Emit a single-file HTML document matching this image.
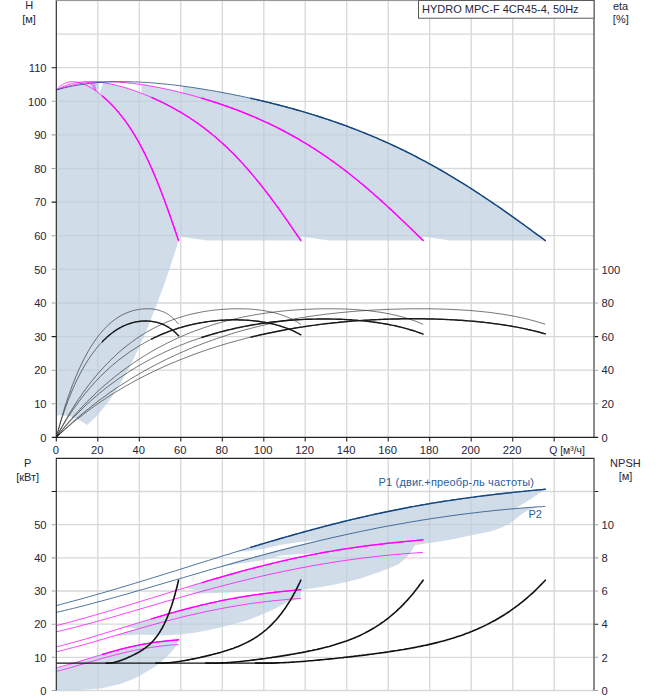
<!DOCTYPE html>
<html lang="ru"><head><meta charset="utf-8"><title>HYDRO MPC-F 4CR45-4, 50Hz</title>
<style>html,body{margin:0;padding:0;background:#fff}svg{display:block}</style></head>
<body>
<svg width="658" height="700" viewBox="0 0 658 700">
<rect width="658" height="700" fill="#fff"/>
<path d="M97.8 0.5V437.4M97.8 458.4V690.5M139.3 0.5V437.4M139.3 458.4V690.5M180.8 0.5V437.4M180.8 458.4V690.5M222.3 0.5V437.4M222.3 458.4V690.5M263.8 0.5V437.4M263.8 458.4V690.5M305.2 0.5V437.4M305.2 458.4V690.5M346.7 0.5V437.4M346.7 458.4V690.5M388.2 0.5V437.4M388.2 458.4V690.5M429.7 0.5V437.4M429.7 458.4V690.5M471.2 0.5V437.4M471.2 458.4V690.5M512.7 0.5V437.4M512.7 458.4V690.5M554.2 0.5V437.4M554.2 458.4V690.5M56.3 403.8H594.0M56.3 370.2H594.0M56.3 336.6H594.0M56.3 303.0H594.0M56.3 269.3H594.0M56.3 235.7H594.0M56.3 202.1H594.0M56.3 168.5H594.0M56.3 134.9H594.0M56.3 101.3H594.0M56.3 67.7H594.0M56.3 34.1H594.0M56.3 0.5H594.0M56.3 690.5H594.0M56.3 657.3H594.0M56.3 624.2H594.0M56.3 591.0H594.0M56.3 557.9H594.0M56.3 524.7H594.0M56.3 491.5H594.0" stroke="#d6d9d9" stroke-width="1.3" fill="none"/>
<path d="M56.3 90.0 L58.4 87.8 L60.4 86.0 L62.5 84.5 L64.6 83.4 L66.7 82.6 L68.7 82.0 L70.8 81.7 L72.9 81.7 L74.9 81.8 L77.0 82.1 L79.1 82.6 L81.2 83.2 L83.2 84.0 L85.3 84.8 L87.4 85.9 L89.5 87.0 L91.5 88.2 L93.6 89.5 L95.7 90.9 L97.7 92.4 L99.8 94.0 L101.9 95.7 L104.0 97.5 L106.0 99.3 L108.1 101.2 L110.2 103.2 L112.2 105.4 L114.3 107.6 L116.4 109.9 L118.5 112.3 L120.5 114.8 L122.6 117.4 L124.7 120.1 L126.7 123.0 L128.8 126.0 L130.9 129.1 L133.0 132.4 L135.0 135.7 L137.1 139.3 L139.2 143.0 L141.3 146.8 L143.3 150.8 L145.4 154.9 L147.5 159.2 L149.5 163.7 L151.6 168.3 L153.7 173.1 L155.8 178.0 L157.8 183.1 L159.9 188.3 L162.0 193.7 L164.0 199.2 L166.1 204.8 L168.2 210.6 L170.3 216.4 L172.3 222.4 L174.4 228.4 L176.5 234.5 L178.6 240.6 L178.6 240.6 L176.2 248.3 L173.9 255.6 L171.5 262.8 L169.2 269.9 L166.8 276.8 L164.5 283.5 L162.1 290.1 L159.7 296.6 L157.4 302.9 L155.0 309.1 L152.7 315.1 L150.3 321.0 L148.0 326.8 L145.6 332.4 L143.3 337.8 L140.9 343.1 L138.6 348.3 L136.2 353.3 L133.9 358.2 L131.5 362.9 L129.2 367.5 L126.8 371.9 L124.5 376.2 L122.1 380.4 L119.8 384.4 L117.4 388.2 L115.1 391.9 L112.7 395.5 L110.4 398.9 L108.0 402.2 L105.7 405.3 L103.3 408.3 L101.0 411.1 L98.6 413.8 L96.3 416.4 L93.9 418.8 L91.6 421.0 L89.2 423.1 L86.9 425.1 L86.9 425.1 L84.1 423.1 L81.3 421.3 L78.6 419.7 L75.8 418.5 L73.0 417.4 L70.2 416.6 L67.4 416.0 L64.6 415.5 L61.9 415.2 L59.1 415.2 L56.3 415.7ZM56.3 90.0 L57.8 89.6 L59.2 89.2 L60.7 88.8 L62.2 88.4 L63.6 88.0 L65.1 87.7 L66.6 87.3 L68.0 87.0 L69.5 86.7 L71.0 86.4 L72.4 86.1 L73.9 85.8 L75.4 85.5 L76.8 85.3 L78.3 85.0 L79.8 84.8 L81.2 84.5 L82.7 84.3 L84.2 84.1 L85.6 83.9 L87.1 83.7 L88.6 83.5 L90.0 83.3 L91.5 83.2 L93.0 83.0 L94.4 82.9 L95.9 82.8 L97.4 82.6 L98.8 82.5 L98.8 93.3 L97.4 92.2 L95.9 91.1 L94.4 90.1 L93.0 89.1 L91.5 88.2 L90.0 87.3 L88.6 86.5 L87.1 85.7 L85.6 85.0 L84.2 84.3 L82.7 83.7 L81.2 83.2 L79.8 82.7 L78.3 82.4 L76.8 82.0 L75.4 81.8 L73.9 81.7 L72.4 81.7 L71.0 81.7 L69.5 81.9 L68.0 82.2 L66.6 82.6 L65.1 83.2 L63.6 83.9 L62.2 84.8 L60.7 85.8 L59.2 87.0 L57.8 88.4 L56.3 90.0ZM103.5 82.8 L106.0 83.2 L108.5 83.6 L111.0 84.1 L113.5 84.7 L116.0 85.2 L118.5 85.9 L121.0 86.5 L123.5 87.2 L126.0 88.0 L128.5 88.7 L131.0 89.6 L133.5 90.4 L136.0 91.3 L138.5 92.2 L141.0 93.1 L143.5 94.1 L146.0 95.1 L148.5 96.1 L150.9 97.2 L153.4 98.3 L155.9 99.4 L158.4 100.5 L160.9 101.7 L163.4 102.9 L165.9 104.2 L168.4 105.5 L170.9 106.8 L173.4 108.2 L175.9 109.5 L178.4 111.0 L180.9 112.4 L183.4 113.9 L185.9 115.5 L188.4 117.1 L190.9 118.7 L193.4 120.4 L195.9 122.1 L198.4 123.8 L200.9 125.7 L203.4 127.5 L205.9 129.4 L208.4 131.4 L210.9 133.4 L213.4 135.4 L215.9 137.5 L218.4 139.7 L220.9 141.9 L223.4 144.2 L225.9 146.5 L228.4 148.9 L230.9 151.3 L233.4 153.8 L235.9 156.3 L238.4 159.0 L240.9 161.6 L243.4 164.3 L245.9 167.1 L248.4 170.0 L250.8 172.8 L253.3 175.8 L255.8 178.8 L258.3 181.9 L260.8 185.0 L263.3 188.1 L265.8 191.3 L268.3 194.6 L270.8 197.9 L273.3 201.3 L275.8 204.7 L278.3 208.1 L280.8 211.6 L283.3 215.1 L285.8 218.7 L288.3 222.3 L290.8 225.9 L293.3 229.5 L295.8 233.2 L298.3 236.9 L300.8 240.6 L300.8 240.4 L207.4 240.4 L178.9 236.6 L178.6 240.6 L177.2 236.6 L175.9 232.6 L174.5 228.7 L173.2 224.8 L171.8 220.9 L170.5 217.1 L169.1 213.3 L167.8 209.5 L166.5 205.8 L165.1 202.1 L163.8 198.5 L162.4 194.9 L161.1 191.4 L159.7 187.9 L158.4 184.5 L157.0 181.2 L155.7 177.9 L154.4 174.7 L153.0 171.5 L151.7 168.4 L150.3 165.4 L149.0 162.5 L147.6 159.6 L146.3 156.8 L144.9 154.0 L143.6 151.3 L142.3 148.7 L140.9 146.2 L139.6 143.7 L138.2 141.2 L136.9 138.9 L135.5 136.6 L134.2 134.3 L132.8 132.2 L131.5 130.0 L130.2 128.0 L128.8 126.0 L127.5 124.0 L126.1 122.1 L124.8 120.3 L123.4 118.5 L122.1 116.7 L120.7 115.0 L119.4 113.4 L118.1 111.8 L116.7 110.2 L115.4 108.7 L114.0 107.2 L112.7 105.8 L111.3 104.4 L110.0 103.1 L108.7 101.8 L107.3 100.5 L106.0 99.2 L104.6 98.0 L103.3 96.9 L101.9 95.7 L100.6 94.6 L99.2 93.6ZM141.4 84.6 L144.9 85.1 L148.5 85.7 L152.1 86.3 L155.6 87.0 L159.2 87.6 L162.7 88.4 L166.3 89.1 L169.9 89.9 L173.4 90.7 L177.0 91.6 L180.6 92.4 L184.1 93.3 L187.7 94.3 L191.3 95.2 L194.8 96.2 L198.4 97.2 L202.0 98.3 L205.5 99.3 L209.1 100.4 L212.7 101.5 L216.2 102.7 L219.8 103.9 L223.4 105.1 L226.9 106.3 L230.5 107.6 L234.1 108.9 L237.6 110.3 L241.2 111.6 L244.8 113.1 L248.3 114.5 L251.9 116.0 L255.5 117.5 L259.0 119.1 L262.6 120.7 L266.2 122.3 L269.7 124.0 L273.3 125.7 L276.9 127.5 L280.4 129.3 L284.0 131.1 L287.6 133.0 L291.1 135.0 L294.7 137.0 L298.2 139.0 L301.8 141.1 L305.4 143.2 L308.9 145.4 L312.5 147.7 L316.1 149.9 L319.6 152.3 L323.2 154.7 L326.8 157.1 L330.3 159.6 L333.9 162.2 L337.5 164.8 L341.0 167.4 L344.6 170.1 L348.2 172.9 L351.7 175.7 L355.3 178.5 L358.9 181.4 L362.4 184.4 L366.0 187.4 L369.6 190.5 L373.1 193.5 L376.7 196.7 L380.3 199.9 L383.8 203.1 L387.4 206.3 L391.0 209.6 L394.5 213.0 L398.1 216.3 L401.7 219.7 L405.2 223.2 L408.8 226.6 L412.4 230.1 L415.9 233.6 L419.5 237.1 L423.1 240.6 L423.1 240.4 L329.0 240.4 L301.1 236.6 L300.8 240.6 L298.1 236.6 L295.4 232.6 L292.7 228.6 L290.0 224.7 L287.3 220.8 L284.6 216.9 L281.9 213.1 L279.2 209.3 L276.5 205.6 L273.8 201.9 L271.1 198.3 L268.4 194.7 L265.7 191.1 L263.0 187.7 L260.3 184.2 L257.6 180.9 L254.9 177.6 L252.2 174.4 L249.5 171.2 L246.8 168.1 L244.0 165.1 L241.3 162.1 L238.6 159.2 L235.9 156.4 L233.2 153.7 L230.5 151.0 L227.8 148.4 L225.1 145.8 L222.4 143.3 L219.7 140.9 L217.0 138.5 L214.3 136.2 L211.6 134.0 L208.9 131.8 L206.2 129.7 L203.5 127.6 L200.8 125.6 L198.1 123.6 L195.4 121.7 L192.7 119.9 L190.0 118.1 L187.3 116.4 L184.6 114.7 L181.9 113.0 L179.2 111.4 L176.5 109.9 L173.8 108.4 L171.1 106.9 L168.4 105.5 L165.7 104.1 L163.0 102.7 L160.3 101.4 L157.6 100.1 L154.9 98.9 L152.2 97.7 L149.5 96.5 L146.8 95.4 L144.1 94.3 L141.4 93.3ZM182.8 86.2 L187.4 86.8 L192.0 87.4 L196.6 88.1 L201.2 88.8 L205.8 89.6 L210.4 90.4 L215.0 91.2 L219.5 92.0 L224.1 92.8 L228.7 93.7 L233.3 94.6 L237.9 95.6 L242.5 96.5 L247.1 97.5 L251.7 98.5 L256.3 99.5 L260.8 100.6 L265.4 101.7 L270.0 102.8 L274.6 104.0 L279.2 105.1 L283.8 106.3 L288.4 107.6 L293.0 108.8 L297.5 110.1 L302.1 111.4 L306.7 112.8 L311.3 114.2 L315.9 115.6 L320.5 117.1 L325.1 118.6 L329.7 120.1 L334.3 121.7 L338.8 123.3 L343.4 124.9 L348.0 126.6 L352.6 128.3 L357.2 130.1 L361.8 131.9 L366.4 133.7 L371.0 135.6 L375.5 137.6 L380.1 139.5 L384.7 141.6 L389.3 143.6 L393.9 145.8 L398.5 147.9 L403.1 150.1 L407.7 152.4 L412.2 154.7 L416.8 157.1 L421.4 159.5 L426.0 161.9 L430.6 164.4 L435.2 167.0 L439.8 169.6 L444.4 172.2 L449.0 174.9 L453.5 177.7 L458.1 180.5 L462.7 183.3 L467.3 186.2 L471.9 189.1 L476.5 192.1 L481.1 195.1 L485.7 198.1 L490.2 201.2 L494.8 204.3 L499.4 207.5 L504.0 210.7 L508.6 213.9 L513.2 217.2 L517.8 220.5 L522.4 223.8 L526.9 227.1 L531.5 230.4 L536.1 233.8 L540.7 237.2 L545.3 240.6 L545.3 240.4 L450.0 240.4 L423.4 236.6 L423.1 240.6 L419.0 236.6 L414.9 232.6 L410.8 228.6 L406.8 224.6 L402.7 220.7 L398.6 216.8 L394.6 213.0 L390.5 209.2 L386.4 205.4 L382.3 201.7 L378.3 198.1 L374.2 194.5 L370.1 190.9 L366.1 187.4 L362.0 184.0 L357.9 180.7 L353.8 177.4 L349.8 174.1 L345.7 171.0 L341.6 167.9 L337.6 164.8 L333.5 161.9 L329.4 159.0 L325.3 156.1 L321.3 153.4 L317.2 150.7 L313.1 148.0 L309.1 145.5 L305.0 143.0 L300.9 140.6 L296.8 138.2 L292.8 135.9 L288.7 133.6 L284.6 131.5 L280.6 129.3 L276.5 127.3 L272.4 125.3 L268.3 123.3 L264.3 121.4 L260.2 119.6 L256.1 117.8 L252.1 116.0 L248.0 114.4 L243.9 112.7 L239.8 111.1 L235.8 109.6 L231.7 108.1 L227.6 106.6 L223.6 105.2 L219.5 103.8 L215.4 102.4 L211.3 101.1 L207.3 99.8 L203.2 98.6 L199.1 97.4 L195.1 96.3 L191.0 95.1 L186.9 94.1 L182.8 93.0Z" fill="#bccdde" fill-opacity="0.7"/>
<path d="M56.3 667.8 L59.4 667.0 L62.6 666.2 L65.7 665.3 L68.8 664.4 L72.0 663.5 L75.1 662.6 L78.2 661.7 L81.4 660.8 L84.5 659.8 L87.6 658.9 L90.8 657.9 L93.9 657.0 L97.1 656.0 L100.2 655.1 L103.3 654.1 L106.5 653.2 L109.6 652.3 L112.7 651.4 L115.9 650.6 L119.0 649.7 L122.1 648.9 L125.3 648.1 L128.4 647.4 L131.5 646.6 L134.7 645.9 L137.8 645.3 L140.9 644.7 L144.1 644.1 L147.2 643.5 L150.3 643.0 L153.5 642.5 L156.6 642.1 L159.7 641.7 L162.9 641.3 L166.0 641.0 L169.1 640.6 L172.3 640.3 L175.4 640.1 L178.6 639.8 L178.6 639.5 L178.0 641.3 L176.2 646.1 L172.6 650.6 L166.5 657.1 L160.4 662.6 L154.3 667.2 L147.0 671.6 L139.0 676.2 L130.0 680.3 L120.0 684.0 L102.0 688.2 L80.0 689.9 L56.3 690.5ZM124.3 627.2 L127.9 626.1 L131.5 624.9 L135.1 623.8 L138.7 622.7 L142.3 621.6 L145.9 620.5 L149.5 619.4 L153.1 618.3 L156.7 617.3 L160.3 616.2 L163.9 615.2 L167.5 614.1 L171.1 613.1 L174.7 612.1 L178.3 611.1 L181.9 610.1 L185.5 609.2 L189.1 608.2 L192.7 607.3 L196.3 606.4 L199.9 605.5 L203.5 604.6 L207.1 603.8 L210.7 603.0 L214.4 602.2 L218.0 601.4 L221.6 600.7 L225.2 599.9 L228.8 599.2 L232.4 598.6 L236.0 597.9 L239.6 597.3 L243.2 596.7 L246.8 596.1 L250.4 595.5 L254.0 595.0 L257.6 594.5 L261.2 594.0 L264.8 593.5 L268.4 593.1 L272.0 592.6 L275.6 592.2 L279.2 591.8 L282.8 591.4 L286.4 591.1 L290.0 590.7 L293.6 590.4 L297.2 590.0 L300.8 589.7 L301.1 589.2 L300.5 598.6 L296.2 599.4 L286.5 602.4 L274.3 608.9 L262.2 614.4 L250.0 619.2 L241.6 621.9 L226.0 626.0 L211.2 629.5 L196.0 632.4 L180.8 634.6 L167.0 635.2 L155.0 635.2 L145.0 634.8 L139.2 634.4 L132.0 634.9 L124.0 635.4 L116.0 635.4 L116.0 634.9 L118.3 634.2 L120.7 633.5 L123.0 632.8 L125.3 632.1 L127.7 631.5 L130.0 630.8 L132.3 630.1 L134.7 629.4 L137.0 628.8 L133.0 627.9 L129.0 627.4ZM185.0 587.7 L189.9 586.3 L194.7 584.8 L199.6 583.3 L204.4 581.9 L209.3 580.4 L214.1 579.0 L219.0 577.6 L223.9 576.2 L228.7 574.8 L233.6 573.5 L238.4 572.1 L243.3 570.8 L248.2 569.5 L253.0 568.2 L257.9 567.0 L262.7 565.7 L267.6 564.5 L272.4 563.3 L277.3 562.2 L282.2 561.0 L287.0 559.9 L291.9 558.9 L296.7 557.8 L301.6 556.8 L306.5 555.8 L311.3 554.8 L316.2 553.9 L321.0 553.0 L325.9 552.1 L330.7 551.3 L335.6 550.4 L340.5 549.7 L345.3 548.9 L350.2 548.2 L355.0 547.4 L359.9 546.8 L364.8 546.1 L369.6 545.5 L374.5 544.9 L379.3 544.3 L384.2 543.7 L389.0 543.2 L393.9 542.7 L398.8 542.2 L403.6 541.7 L408.5 541.2 L413.3 540.8 L418.2 540.3 L423.1 539.9 L423.0 543.9 L416.6 544.5 L414.3 546.2 L410.5 552.8 L406.0 558.1 L398.4 564.2 L388.0 568.8 L375.6 573.3 L360.4 578.6 L345.2 582.3 L330.0 585.6 L316.0 587.8 L304.7 589.3 L291.6 590.0 L263.4 591.0 L230.8 592.4 L206.5 593.2 L190.0 593.6 L176.0 598.6 L176.0 598.0 L179.2 597.1 L182.4 596.2 L185.5 595.3 L188.7 594.4 L191.9 593.5 L195.1 592.6 L198.3 591.7 L201.5 590.9 L204.6 590.0 L207.8 589.1 L211.0 588.3 L203.0 590.4 L195.6 590.1ZM237.3 551.5 L241.2 550.3 L245.1 549.1 L249.0 547.9 L252.9 546.7 L256.8 545.5 L260.7 544.4 L264.6 543.2 L268.5 542.1 L272.4 540.9 L276.3 539.8 L280.2 538.6 L284.1 537.5 L288.0 536.4 L291.9 535.3 L295.8 534.2 L299.7 533.1 L303.6 532.0 L307.5 530.9 L311.4 529.9 L315.3 528.8 L319.2 527.8 L323.1 526.8 L327.0 525.8 L330.9 524.8 L334.8 523.8 L338.7 522.8 L342.6 521.8 L346.5 520.9 L350.4 519.9 L354.3 519.0 L358.2 518.1 L362.1 517.2 L366.0 516.3 L369.9 515.4 L373.8 514.5 L377.7 513.7 L381.6 512.8 L385.5 512.0 L389.4 511.2 L393.2 510.4 L397.1 509.6 L401.0 508.9 L404.9 508.1 L408.8 507.4 L412.7 506.6 L416.6 505.9 L420.5 505.2 L424.4 504.5 L428.3 503.9 L432.2 503.2 L436.1 502.6 L440.0 501.9 L443.9 501.3 L447.8 500.7 L451.7 500.1 L455.6 499.6 L459.5 499.0 L463.4 498.4 L467.3 497.9 L471.2 497.4 L475.1 496.9 L479.0 496.4 L482.9 495.9 L486.8 495.4 L490.7 494.9 L494.6 494.5 L498.5 494.0 L502.4 493.6 L506.3 493.1 L510.2 492.7 L514.1 492.3 L518.0 491.9 L521.9 491.5 L525.8 491.1 L529.7 490.7 L533.6 490.3 L537.5 490.0 L541.4 489.6 L545.3 489.2 L541.1 491.7 L532.6 498.1 L521.9 504.5 L517.1 507.2 L517.1 508.5 L520.1 508.2 L523.1 508.0 L526.1 507.7 L529.0 507.5 L532.0 507.3 L535.0 507.1 L538.0 506.9 L535.0 507.9 L527.2 510.5 L521.9 514.0 L511.3 522.6 L500.6 527.9 L490.0 531.5 L473.0 534.9 L460.8 537.6 L448.6 540.1 L436.5 542.0 L424.3 543.7 L414.6 545.2 L414.6 541.1 L409.5 541.6 L404.4 542.1 L399.3 542.6 L394.3 543.1 L389.2 543.7 L384.1 544.2 L379.0 544.8 L373.9 545.4 L368.8 546.1 L363.8 546.7 L358.7 547.4 L353.6 548.2 L348.5 548.9 L343.4 549.7 L338.3 550.5 L333.3 551.3 L328.2 552.2 L323.1 553.1 L318.0 554.1 L310.4 553.4 L304.3 553.8 L292.2 554.6 L280.0 555.8 L263.3 560.2 L245.0 562.7 L222.5 566.2 L222.5 565.4 L226.0 564.4 L229.4 563.5 L232.9 562.5 L236.4 561.5 L239.8 560.5 L243.3 559.6 L246.8 558.6 L250.2 557.7 L253.7 556.7 L257.2 555.8 L260.6 554.8 L264.1 553.9 L267.6 553.0 L271.0 552.0 L274.5 551.1 L277.9 550.2 L281.4 549.3 L284.9 548.4 L288.3 547.5 L291.8 546.6 L295.3 545.8 L298.7 544.9 L302.2 544.0 L305.7 543.2 L309.1 542.3 L312.6 541.5 L316.1 540.7 L319.5 539.8 L323.0 539.0 L318.5 539.9 L304.3 541.5 L292.2 542.9 L280.0 545.1 L262.8 549.0 L248.0 551.3Z" fill="#bccdde" fill-opacity="0.7"/>
<path d="M56.3 90.0 L57.3 88.9 L58.4 87.8 L59.4 86.9 L60.4 86.0 L61.4 85.3 L62.5 84.6 L63.5 84.0 L64.5 83.4 L65.5 83.0 L66.6 82.6 L67.6 82.3 L68.6 82.1 L69.7 81.9 L70.7 81.7 L71.7 81.7 L72.7 81.7 L73.8 81.7 L74.8 81.8 L75.8 81.9 L76.8 82.0 L77.9 82.3 L78.9 82.5 L79.9 82.8 L81.0 83.1 L82.0 83.5 L83.0 83.9 L84.0 84.3 L85.1 84.7 L86.1 85.2 L87.1 85.7 L88.1 86.3 L89.2 86.8 L90.2 87.4 L91.2 88.0 L92.3 88.7 L93.3 89.3 L94.3 90.0 L95.3 90.7 L96.4 91.4 L97.4 92.2 L98.4 93.0 L99.4 93.7 L100.5 94.6 L101.5 95.4 L102.5 96.2 L103.6 97.1 L104.6 98.0 L105.6 98.9 L106.6 99.9 L107.7 100.8 L108.7 101.8 L109.7 102.8 L110.7 103.8 L111.8 104.9 L112.8 105.9 L113.8 107.0 L114.9 108.1 L115.9 109.3 L116.9 110.5 L117.9 111.6 L119.0 112.9 L120.0 114.1 L121.0 115.4 L122.0 116.7 L123.1 118.0 L124.1 119.4 L125.1 120.7 L126.2 122.2 L127.2 123.6 L128.2 125.1 L129.2 126.6 L130.3 128.1 L131.3 129.7 L132.3 131.3 L133.3 133.0 L134.4 134.6 L135.4 136.4 L136.4 138.1 L137.5 139.9 L138.5 141.7 L139.5 143.6 L140.5 145.5 L141.6 147.4 L142.6 149.4 L143.6 151.4 L144.6 153.4 L145.7 155.5 L146.7 157.6 L147.7 159.8 L148.8 162.0 L149.8 164.2 L150.8 166.5 L151.8 168.8 L152.9 171.2 L153.9 173.6 L154.9 176.0 L155.9 178.5 L157.0 181.0 L158.0 183.6 L159.0 186.1 L160.1 188.7 L161.1 191.4 L162.1 194.1 L163.1 196.8 L164.2 199.5 L165.2 202.3 L166.2 205.1 L167.2 208.0 L168.3 210.8 L169.3 213.7 L170.3 216.6 L171.4 219.6 L172.4 222.5 L173.4 225.5 L174.4 228.5 L175.5 231.5 L176.5 234.5 L177.5 237.5 L178.6 240.6" stroke="#ff00ff" stroke-width="0.75" fill="none"/>
<path d="M102.4 96.1 L103.0 96.6 L103.6 97.2 L104.3 97.7 L104.9 98.3 L105.6 98.9 L106.2 99.5 L106.8 100.0 L107.5 100.6 L108.1 101.2 L108.8 101.9 L109.4 102.5 L110.0 103.1 L110.7 103.8 L111.3 104.4 L112.0 105.1 L112.6 105.7 L113.2 106.4 L113.9 107.1 L114.5 107.8 L115.2 108.5 L115.8 109.2 L116.4 109.9 L117.1 110.7 L117.7 111.4 L118.4 112.1 L119.0 112.9 L119.6 113.7 L120.3 114.5 L120.9 115.3 L121.6 116.1 L122.2 116.9 L122.8 117.7 L123.5 118.5 L124.1 119.4 L124.8 120.3 L125.4 121.1 L126.0 122.0 L126.7 122.9 L127.3 123.8 L128.0 124.7 L128.6 125.7 L129.2 126.6 L129.9 127.6 L130.5 128.5 L131.2 129.5 L131.8 130.5 L132.4 131.5 L133.1 132.5 L133.7 133.6 L134.4 134.6 L135.0 135.7 L135.6 136.8 L136.3 137.9 L136.9 139.0 L137.6 140.1 L138.2 141.2 L138.9 142.4 L139.5 143.5 L140.1 144.7 L140.8 145.9 L141.4 147.1 L142.1 148.3 L142.7 149.6 L143.3 150.8 L144.0 152.1 L144.6 153.4 L145.3 154.6 L145.9 156.0 L146.5 157.3 L147.2 158.6 L147.8 160.0 L148.5 161.3 L149.1 162.7 L149.7 164.1 L150.4 165.5 L151.0 167.0 L151.7 168.4 L152.3 169.9 L152.9 171.4 L153.6 172.9 L154.2 174.4 L154.9 175.9 L155.5 177.4 L156.1 179.0 L156.8 180.5 L157.4 182.1 L158.1 183.7 L158.7 185.3 L159.3 186.9 L160.0 188.5 L160.6 190.2 L161.3 191.9 L161.9 193.5 L162.5 195.2 L163.2 196.9 L163.8 198.6 L164.5 200.3 L165.1 202.1 L165.7 203.8 L166.4 205.6 L167.0 207.3 L167.7 209.1 L168.3 210.9 L168.9 212.7 L169.6 214.5 L170.2 216.3 L170.9 218.2 L171.5 220.0 L172.1 221.8 L172.8 223.7 L173.4 225.5 L174.1 227.4 L174.7 229.3 L175.3 231.1 L176.0 233.0 L176.6 234.9 L177.3 236.8 L177.9 238.7 L178.6 240.6" stroke="#ff00ff" stroke-width="1.45" fill="none" stroke-linecap="round"/>
<path d="M56.3 90.0 L58.4 88.9 L60.4 87.8 L62.5 86.9 L64.5 86.0 L66.6 85.3 L68.6 84.6 L70.7 84.0 L72.7 83.4 L74.8 83.0 L76.8 82.6 L78.9 82.3 L81.0 82.1 L83.0 81.9 L85.1 81.7 L87.1 81.7 L89.2 81.7 L91.2 81.7 L93.3 81.8 L95.3 81.9 L97.4 82.0 L99.4 82.3 L101.5 82.5 L103.6 82.8 L105.6 83.1 L107.7 83.5 L109.7 83.9 L111.8 84.3 L113.8 84.7 L115.9 85.2 L117.9 85.7 L120.0 86.3 L122.0 86.8 L124.1 87.4 L126.2 88.0 L128.2 88.7 L130.3 89.3 L132.3 90.0 L134.4 90.7 L136.4 91.4 L138.5 92.2 L140.5 93.0 L142.6 93.7 L144.6 94.6 L146.7 95.4 L148.8 96.2 L150.8 97.1 L152.9 98.0 L154.9 98.9 L157.0 99.9 L159.0 100.8 L161.1 101.8 L163.1 102.8 L165.2 103.8 L167.2 104.9 L169.3 105.9 L171.4 107.0 L173.4 108.1 L175.5 109.3 L177.5 110.5 L179.6 111.6 L181.6 112.9 L183.7 114.1 L185.7 115.4 L187.8 116.7 L189.9 118.0 L191.9 119.4 L194.0 120.7 L196.0 122.2 L198.1 123.6 L200.1 125.1 L202.2 126.6 L204.2 128.1 L206.3 129.7 L208.3 131.3 L210.4 133.0 L212.5 134.6 L214.5 136.4 L216.6 138.1 L218.6 139.9 L220.7 141.7 L222.7 143.6 L224.8 145.5 L226.8 147.4 L228.9 149.4 L230.9 151.4 L233.0 153.4 L235.1 155.5 L237.1 157.6 L239.2 159.8 L241.2 162.0 L243.3 164.2 L245.3 166.5 L247.4 168.8 L249.4 171.2 L251.5 173.6 L253.5 176.0 L255.6 178.5 L257.7 181.0 L259.7 183.6 L261.8 186.1 L263.8 188.7 L265.9 191.4 L267.9 194.1 L270.0 196.8 L272.0 199.5 L274.1 202.3 L276.1 205.1 L278.2 208.0 L280.3 210.8 L282.3 213.7 L284.4 216.6 L286.4 219.6 L288.5 222.5 L290.5 225.5 L292.6 228.5 L294.6 231.5 L296.7 234.5 L298.7 237.5 L300.8 240.6" stroke="#ff00ff" stroke-width="0.75" fill="none"/>
<path d="M151.7 97.5 L153.0 98.1 L154.2 98.6 L155.5 99.2 L156.7 99.8 L158.0 100.3 L159.2 100.9 L160.5 101.5 L161.7 102.1 L163.0 102.7 L164.3 103.4 L165.5 104.0 L166.8 104.6 L168.0 105.3 L169.3 105.9 L170.5 106.6 L171.8 107.3 L173.0 107.9 L174.3 108.6 L175.5 109.3 L176.8 110.0 L178.0 110.8 L179.3 111.5 L180.5 112.2 L181.8 113.0 L183.0 113.7 L184.3 114.5 L185.6 115.3 L186.8 116.0 L188.1 116.8 L189.3 117.7 L190.6 118.5 L191.8 119.3 L193.1 120.1 L194.3 121.0 L195.6 121.9 L196.8 122.7 L198.1 123.6 L199.3 124.5 L200.6 125.4 L201.8 126.3 L203.1 127.3 L204.3 128.2 L205.6 129.2 L206.8 130.2 L208.1 131.1 L209.4 132.1 L210.6 133.1 L211.9 134.2 L213.1 135.2 L214.4 136.2 L215.6 137.3 L216.9 138.4 L218.1 139.5 L219.4 140.6 L220.6 141.7 L221.9 142.8 L223.1 143.9 L224.4 145.1 L225.6 146.3 L226.9 147.4 L228.1 148.6 L229.4 149.9 L230.6 151.1 L231.9 152.3 L233.2 153.6 L234.4 154.8 L235.7 156.1 L236.9 157.4 L238.2 158.7 L239.4 160.1 L240.7 161.4 L241.9 162.8 L243.2 164.1 L244.4 165.5 L245.7 166.9 L246.9 168.3 L248.2 169.8 L249.4 171.2 L250.7 172.7 L251.9 174.1 L253.2 175.6 L254.4 177.1 L255.7 178.6 L257.0 180.2 L258.2 181.7 L259.5 183.2 L260.7 184.8 L262.0 186.4 L263.2 188.0 L264.5 189.6 L265.7 191.2 L267.0 192.8 L268.2 194.5 L269.5 196.1 L270.7 197.8 L272.0 199.5 L273.2 201.2 L274.5 202.9 L275.7 204.6 L277.0 206.3 L278.3 208.0 L279.5 209.8 L280.8 211.5 L282.0 213.3 L283.3 215.1 L284.5 216.8 L285.8 218.6 L287.0 220.4 L288.3 222.2 L289.5 224.0 L290.8 225.9 L292.0 227.7 L293.3 229.5 L294.5 231.3 L295.8 233.2 L297.0 235.0 L298.3 236.9 L299.5 238.7 L300.8 240.6" stroke="#ff00ff" stroke-width="1.45" fill="none" stroke-linecap="round"/>
<path d="M56.3 90.0 L59.4 88.9 L62.5 87.8 L65.5 86.9 L68.6 86.0 L71.7 85.3 L74.8 84.6 L77.9 84.0 L81.0 83.4 L84.0 83.0 L87.1 82.6 L90.2 82.3 L93.3 82.1 L96.4 81.9 L99.4 81.7 L102.5 81.7 L105.6 81.7 L108.7 81.7 L111.8 81.8 L114.9 81.9 L117.9 82.0 L121.0 82.3 L124.1 82.5 L127.2 82.8 L130.3 83.1 L133.3 83.5 L136.4 83.9 L139.5 84.3 L142.6 84.7 L145.7 85.2 L148.8 85.7 L151.8 86.3 L154.9 86.8 L158.0 87.4 L161.1 88.0 L164.2 88.7 L167.2 89.3 L170.3 90.0 L173.4 90.7 L176.5 91.4 L179.6 92.2 L182.7 93.0 L185.7 93.7 L188.8 94.6 L191.9 95.4 L195.0 96.2 L198.1 97.1 L201.2 98.0 L204.2 98.9 L207.3 99.9 L210.4 100.8 L213.5 101.8 L216.6 102.8 L219.6 103.8 L222.7 104.9 L225.8 105.9 L228.9 107.0 L232.0 108.1 L235.1 109.3 L238.1 110.5 L241.2 111.6 L244.3 112.9 L247.4 114.1 L250.5 115.4 L253.5 116.7 L256.6 118.0 L259.7 119.4 L262.8 120.7 L265.9 122.2 L269.0 123.6 L272.0 125.1 L275.1 126.6 L278.2 128.1 L281.3 129.7 L284.4 131.3 L287.4 133.0 L290.5 134.6 L293.6 136.4 L296.7 138.1 L299.8 139.9 L302.9 141.7 L305.9 143.6 L309.0 145.5 L312.1 147.4 L315.2 149.4 L318.3 151.4 L321.3 153.4 L324.4 155.5 L327.5 157.6 L330.6 159.8 L333.7 162.0 L336.8 164.2 L339.8 166.5 L342.9 168.8 L346.0 171.2 L349.1 173.6 L352.2 176.0 L355.2 178.5 L358.3 181.0 L361.4 183.6 L364.5 186.1 L367.6 188.7 L370.7 191.4 L373.7 194.1 L376.8 196.8 L379.9 199.5 L383.0 202.3 L386.1 205.1 L389.1 208.0 L392.2 210.8 L395.3 213.7 L398.4 216.6 L401.5 219.6 L404.6 222.5 L407.6 225.5 L410.7 228.5 L413.8 231.5 L416.9 234.5 L420.0 237.5 L423.1 240.6" stroke="#ff00ff" stroke-width="0.75" fill="none"/>
<path d="M201.9 98.2 L203.8 98.8 L205.6 99.4 L207.5 99.9 L209.4 100.5 L211.2 101.1 L213.1 101.7 L214.9 102.3 L216.8 102.9 L218.7 103.5 L220.5 104.1 L222.4 104.7 L224.2 105.4 L226.1 106.0 L227.9 106.7 L229.8 107.4 L231.7 108.0 L233.5 108.7 L235.4 109.4 L237.2 110.1 L239.1 110.8 L241.0 111.5 L242.8 112.3 L244.7 113.0 L246.5 113.8 L248.4 114.5 L250.2 115.3 L252.1 116.1 L254.0 116.9 L255.8 117.7 L257.7 118.5 L259.5 119.3 L261.4 120.1 L263.2 121.0 L265.1 121.8 L267.0 122.7 L268.8 123.5 L270.7 124.4 L272.5 125.3 L274.4 126.2 L276.3 127.2 L278.1 128.1 L280.0 129.0 L281.8 130.0 L283.7 131.0 L285.5 132.0 L287.4 132.9 L289.3 134.0 L291.1 135.0 L293.0 136.0 L294.8 137.0 L296.7 138.1 L298.6 139.2 L300.4 140.3 L302.3 141.4 L304.1 142.5 L306.0 143.6 L307.8 144.7 L309.7 145.9 L311.6 147.1 L313.4 148.2 L315.3 149.4 L317.1 150.6 L319.0 151.9 L320.9 153.1 L322.7 154.3 L324.6 155.6 L326.4 156.9 L328.3 158.2 L330.1 159.5 L332.0 160.8 L333.9 162.1 L335.7 163.5 L337.6 164.8 L339.4 166.2 L341.3 167.6 L343.2 169.0 L345.0 170.4 L346.9 171.9 L348.7 173.3 L350.6 174.8 L352.4 176.2 L354.3 177.7 L356.2 179.2 L358.0 180.7 L359.9 182.3 L361.7 183.8 L363.6 185.4 L365.4 186.9 L367.3 188.5 L369.2 190.1 L371.0 191.7 L372.9 193.3 L374.7 195.0 L376.6 196.6 L378.5 198.3 L380.3 199.9 L382.2 201.6 L384.0 203.3 L385.9 205.0 L387.7 206.7 L389.6 208.4 L391.5 210.1 L393.3 211.9 L395.2 213.6 L397.0 215.3 L398.9 217.1 L400.8 218.9 L402.6 220.7 L404.5 222.4 L406.3 224.2 L408.2 226.0 L410.0 227.8 L411.9 229.6 L413.8 231.4 L415.6 233.3 L417.5 235.1 L419.3 236.9 L421.2 238.7 L423.1 240.6" stroke="#ff00ff" stroke-width="1.45" fill="none" stroke-linecap="round"/>
<path d="M56.3 90.0 L60.4 88.9 L64.5 87.8 L68.6 86.9 L72.7 86.0 L76.8 85.3 L81.0 84.6 L85.1 84.0 L89.2 83.4 L93.3 83.0 L97.4 82.6 L101.5 82.3 L105.6 82.1 L109.7 81.9 L113.8 81.7 L117.9 81.7 L122.0 81.7 L126.2 81.7 L130.3 81.8 L134.4 81.9 L138.5 82.0 L142.6 82.3 L146.7 82.5 L150.8 82.8 L154.9 83.1 L159.0 83.5 L163.1 83.9 L167.2 84.3 L171.4 84.7 L175.5 85.2 L179.6 85.7 L183.7 86.3 L187.8 86.8 L191.9 87.4 L196.0 88.0 L200.1 88.7 L204.2 89.3 L208.3 90.0 L212.5 90.7 L216.6 91.4 L220.7 92.2 L224.8 93.0 L228.9 93.7 L233.0 94.6 L237.1 95.4 L241.2 96.2 L245.3 97.1 L249.4 98.0 L253.5 98.9 L257.7 99.9 L261.8 100.8 L265.9 101.8 L270.0 102.8 L274.1 103.8 L278.2 104.9 L282.3 105.9 L286.4 107.0 L290.5 108.1 L294.6 109.3 L298.7 110.5 L302.9 111.6 L307.0 112.9 L311.1 114.1 L315.2 115.4 L319.3 116.7 L323.4 118.0 L327.5 119.4 L331.6 120.7 L335.7 122.2 L339.8 123.6 L343.9 125.1 L348.1 126.6 L352.2 128.1 L356.3 129.7 L360.4 131.3 L364.5 133.0 L368.6 134.6 L372.7 136.4 L376.8 138.1 L380.9 139.9 L385.0 141.7 L389.1 143.6 L393.3 145.5 L397.4 147.4 L401.5 149.4 L405.6 151.4 L409.7 153.4 L413.8 155.5 L417.9 157.6 L422.0 159.8 L426.1 162.0 L430.2 164.2 L434.4 166.5 L438.5 168.8 L442.6 171.2 L446.7 173.6 L450.8 176.0 L454.9 178.5 L459.0 181.0 L463.1 183.6 L467.2 186.1 L471.3 188.7 L475.4 191.4 L479.6 194.1 L483.7 196.8 L487.8 199.5 L491.9 202.3 L496.0 205.1 L500.1 208.0 L504.2 210.8 L508.3 213.7 L512.4 216.6 L516.5 219.6 L520.6 222.5 L524.8 225.5 L528.9 228.5 L533.0 231.5 L537.1 234.5 L541.2 237.5 L545.3 240.6" stroke="#14467f" stroke-width="0.75" fill="none"/>
<path d="M250.9 98.3 L253.4 98.9 L255.8 99.4 L258.3 100.0 L260.8 100.6 L263.3 101.2 L265.7 101.8 L268.2 102.4 L270.7 103.0 L273.2 103.6 L275.6 104.2 L278.1 104.8 L280.6 105.5 L283.1 106.1 L285.5 106.8 L288.0 107.5 L290.5 108.1 L292.9 108.8 L295.4 109.5 L297.9 110.2 L300.4 110.9 L302.8 111.6 L305.3 112.4 L307.8 113.1 L310.3 113.9 L312.7 114.6 L315.2 115.4 L317.7 116.2 L320.2 117.0 L322.6 117.8 L325.1 118.6 L327.6 119.4 L330.1 120.2 L332.5 121.1 L335.0 121.9 L337.5 122.8 L340.0 123.7 L342.4 124.5 L344.9 125.4 L347.4 126.3 L349.9 127.3 L352.3 128.2 L354.8 129.1 L357.3 130.1 L359.7 131.1 L362.2 132.1 L364.7 133.0 L367.2 134.1 L369.6 135.1 L372.1 136.1 L374.6 137.2 L377.1 138.2 L379.5 139.3 L382.0 140.4 L384.5 141.5 L387.0 142.6 L389.4 143.7 L391.9 144.8 L394.4 146.0 L396.9 147.2 L399.3 148.3 L401.8 149.5 L404.3 150.7 L406.8 152.0 L409.2 153.2 L411.7 154.4 L414.2 155.7 L416.7 157.0 L419.1 158.3 L421.6 159.6 L424.1 160.9 L426.5 162.2 L429.0 163.6 L431.5 164.9 L434.0 166.3 L436.4 167.7 L438.9 169.1 L441.4 170.5 L443.9 171.9 L446.3 173.4 L448.8 174.9 L451.3 176.3 L453.8 177.8 L456.2 179.3 L458.7 180.8 L461.2 182.3 L463.7 183.9 L466.1 185.4 L468.6 187.0 L471.1 188.6 L473.6 190.2 L476.0 191.8 L478.5 193.4 L481.0 195.0 L483.4 196.7 L485.9 198.3 L488.4 200.0 L490.9 201.6 L493.3 203.3 L495.8 205.0 L498.3 206.7 L500.8 208.4 L503.2 210.2 L505.7 211.9 L508.2 213.6 L510.7 215.4 L513.1 217.1 L515.6 218.9 L518.1 220.7 L520.6 222.5 L523.0 224.2 L525.5 226.0 L528.0 227.8 L530.5 229.6 L532.9 231.5 L535.4 233.3 L537.9 235.1 L540.4 236.9 L542.8 238.7 L545.3 240.6" stroke="#14467f" stroke-width="1.45" fill="none" stroke-linecap="round"/>
<path d="M90.6 83.4L95.0 90.0M92.4 83.1L95.6 90.6M94.3 82.9L96.2 91.1" stroke="#ff00ff" stroke-width="0.5" fill="none"/>
<path d="M56.3 437.4 L57.3 433.4 L58.4 429.5 L59.4 425.7 L60.4 422.0 L61.4 418.4 L62.5 414.9 L63.5 411.5 L64.5 408.1 L65.5 404.9 L66.6 401.7 L67.6 398.7 L68.6 395.7 L69.7 392.7 L70.7 389.9 L71.7 387.1 L72.7 384.4 L73.8 381.8 L74.8 379.2 L75.8 376.7 L76.8 374.3 L77.9 371.9 L78.9 369.6 L79.9 367.4 L81.0 365.2 L82.0 363.1 L83.0 361.0 L84.0 359.0 L85.1 357.0 L86.1 355.1 L87.1 353.2 L88.1 351.4 L89.2 349.6 L90.2 347.9 L91.2 346.3 L92.3 344.7 L93.3 343.1 L94.3 341.6 L95.3 340.1 L96.4 338.6 L97.4 337.3 L98.4 335.9 L99.4 334.6 L100.5 333.3 L101.5 332.1 L102.5 330.9 L103.6 329.8 L104.6 328.7 L105.6 327.6 L106.6 326.6 L107.7 325.6 L108.7 324.6 L109.7 323.7 L110.7 322.8 L111.8 321.9 L112.8 321.1 L113.8 320.3 L114.9 319.5 L115.9 318.8 L116.9 318.1 L117.9 317.5 L119.0 316.8 L120.0 316.2 L121.0 315.6 L122.0 315.1 L123.1 314.5 L124.1 314.0 L125.1 313.6 L126.2 313.1 L127.2 312.7 L128.2 312.3 L129.2 311.9 L130.3 311.5 L131.3 311.2 L132.3 310.9 L133.3 310.6 L134.4 310.3 L135.4 310.1 L136.4 309.9 L137.5 309.7 L138.5 309.5 L139.5 309.3 L140.5 309.2 L141.6 309.1 L142.6 309.0 L143.6 308.9 L144.6 308.8 L145.7 308.8 L146.7 308.8 L147.7 308.8 L148.8 308.8 L149.8 308.8 L150.8 308.9 L151.8 309.0 L152.9 309.1 L153.9 309.2 L154.9 309.4 L155.9 309.6 L157.0 309.8 L158.0 310.1 L159.0 310.3 L160.1 310.6 L161.1 311.0 L162.1 311.4 L163.1 311.8 L164.2 312.2 L165.2 312.7 L166.2 313.3 L167.2 313.8 L168.3 314.5 L169.3 315.2 L170.3 315.9 L171.4 316.7 L172.4 317.6 L173.4 318.5 L174.4 319.5 L175.5 320.6 L176.5 321.7 L177.5 323.0 L178.6 324.3" stroke="#1a1a1a" stroke-width="0.60" fill="none"/>
<path d="M56.3 437.4 L57.3 433.7 L58.4 430.0 L59.4 426.5 L60.4 423.1 L61.4 419.8 L62.5 416.6 L63.5 413.5 L64.5 410.5 L65.5 407.5 L66.6 404.7 L67.6 401.9 L68.6 399.2 L69.7 396.6 L70.7 394.0 L71.7 391.6 L72.7 389.2 L73.8 386.8 L74.8 384.5 L75.8 382.3 L76.8 380.2 L77.9 378.1 L78.9 376.0 L79.9 374.0 L81.0 372.1 L82.0 370.2 L83.0 368.4 L84.0 366.6 L85.1 364.8 L86.1 363.1 L87.1 361.5 L88.1 359.9 L89.2 358.3 L90.2 356.8 L91.2 355.3 L92.3 353.9 L93.3 352.4 L94.3 351.1 L95.3 349.8 L96.4 348.5 L97.4 347.2 L98.4 346.0 L99.4 344.8 L100.5 343.7 L101.5 342.5 L102.5 341.5 L103.6 340.4 L104.6 339.4 L105.6 338.4 L106.6 337.5 L107.7 336.5 L108.7 335.7 L109.7 334.8 L110.7 334.0 L111.8 333.2 L112.8 332.4 L113.8 331.7 L114.9 330.9 L115.9 330.2 L116.9 329.6 L117.9 329.0 L119.0 328.3 L120.0 327.8 L121.0 327.2 L122.0 326.7 L123.1 326.2 L124.1 325.7 L125.1 325.3 L126.2 324.8 L127.2 324.4 L128.2 324.0 L129.2 323.7 L130.3 323.4 L131.3 323.0 L132.3 322.8 L133.3 322.5 L134.4 322.2 L135.4 322.0 L136.4 321.8 L137.5 321.6 L138.5 321.5 L139.5 321.4 L140.5 321.2 L141.6 321.2 L142.6 321.1 L143.6 321.0 L144.6 321.0 L145.7 321.0 L146.7 321.0 L147.7 321.1 L148.8 321.1 L149.8 321.2 L150.8 321.3 L151.8 321.4 L152.9 321.6 L153.9 321.7 L154.9 321.9 L155.9 322.2 L157.0 322.4 L158.0 322.7 L159.0 323.0 L160.1 323.3 L161.1 323.7 L162.1 324.1 L163.1 324.5 L164.2 325.0 L165.2 325.4 L166.2 326.0 L167.2 326.5 L168.3 327.1 L169.3 327.8 L170.3 328.5 L171.4 329.2 L172.4 330.0 L173.4 330.8 L174.4 331.7 L175.5 332.6 L176.5 333.6 L177.5 334.7 L178.6 335.8" stroke="#1a1a1a" stroke-width="0.60" fill="none"/>
<path d="M102.4 341.7 L103.0 341.0 L103.6 340.3 L104.3 339.7 L104.9 339.1 L105.6 338.5 L106.2 337.9 L106.8 337.3 L107.5 336.7 L108.1 336.2 L108.8 335.6 L109.4 335.1 L110.0 334.5 L110.7 334.0 L111.3 333.5 L112.0 333.0 L112.6 332.5 L113.2 332.1 L113.9 331.6 L114.5 331.2 L115.2 330.7 L115.8 330.3 L116.4 329.9 L117.1 329.5 L117.7 329.1 L118.4 328.7 L119.0 328.3 L119.6 328.0 L120.3 327.6 L120.9 327.3 L121.6 326.9 L122.2 326.6 L122.8 326.3 L123.5 326.0 L124.1 325.7 L124.8 325.4 L125.4 325.1 L126.0 324.9 L126.7 324.6 L127.3 324.4 L128.0 324.1 L128.6 323.9 L129.2 323.7 L129.9 323.5 L130.5 323.3 L131.2 323.1 L131.8 322.9 L132.4 322.7 L133.1 322.6 L133.7 322.4 L134.4 322.2 L135.0 322.1 L135.6 322.0 L136.3 321.9 L136.9 321.7 L137.6 321.6 L138.2 321.5 L138.9 321.4 L139.5 321.4 L140.1 321.3 L140.8 321.2 L141.4 321.2 L142.1 321.1 L142.7 321.1 L143.3 321.0 L144.0 321.0 L144.6 321.0 L145.3 321.0 L145.9 321.0 L146.5 321.0 L147.2 321.0 L147.8 321.1 L148.5 321.1 L149.1 321.1 L149.7 321.2 L150.4 321.2 L151.0 321.3 L151.7 321.4 L152.3 321.5 L152.9 321.6 L153.6 321.7 L154.2 321.8 L154.9 321.9 L155.5 322.1 L156.1 322.2 L156.8 322.4 L157.4 322.5 L158.1 322.7 L158.7 322.9 L159.3 323.1 L160.0 323.3 L160.6 323.5 L161.3 323.7 L161.9 324.0 L162.5 324.2 L163.2 324.5 L163.8 324.8 L164.5 325.1 L165.1 325.4 L165.7 325.7 L166.4 326.1 L167.0 326.4 L167.7 326.8 L168.3 327.1 L168.9 327.5 L169.6 328.0 L170.2 328.4 L170.9 328.8 L171.5 329.3 L172.1 329.8 L172.8 330.3 L173.4 330.8 L174.1 331.4 L174.7 331.9 L175.3 332.5 L176.0 333.1 L176.6 333.8 L177.3 334.4 L177.9 335.1 L178.6 335.8" stroke="#1a1a1a" stroke-width="1.45" fill="none" stroke-linecap="round"/>
<path d="M56.3 437.4 L58.4 433.4 L60.4 429.5 L62.5 425.7 L64.5 422.0 L66.6 418.4 L68.6 414.9 L70.7 411.5 L72.7 408.1 L74.8 404.9 L76.8 401.7 L78.9 398.7 L81.0 395.7 L83.0 392.7 L85.1 389.9 L87.1 387.1 L89.2 384.4 L91.2 381.8 L93.3 379.2 L95.3 376.7 L97.4 374.3 L99.4 371.9 L101.5 369.6 L103.6 367.4 L105.6 365.2 L107.7 363.1 L109.7 361.0 L111.8 359.0 L113.8 357.0 L115.9 355.1 L117.9 353.2 L120.0 351.4 L122.0 349.6 L124.1 347.9 L126.2 346.3 L128.2 344.7 L130.3 343.1 L132.3 341.6 L134.4 340.1 L136.4 338.6 L138.5 337.3 L140.5 335.9 L142.6 334.6 L144.6 333.3 L146.7 332.1 L148.8 330.9 L150.8 329.8 L152.9 328.7 L154.9 327.6 L157.0 326.6 L159.0 325.6 L161.1 324.6 L163.1 323.7 L165.2 322.8 L167.2 321.9 L169.3 321.1 L171.4 320.3 L173.4 319.5 L175.5 318.8 L177.5 318.1 L179.6 317.5 L181.6 316.8 L183.7 316.2 L185.7 315.6 L187.8 315.1 L189.9 314.5 L191.9 314.0 L194.0 313.6 L196.0 313.1 L198.1 312.7 L200.1 312.3 L202.2 311.9 L204.2 311.5 L206.3 311.2 L208.3 310.9 L210.4 310.6 L212.5 310.3 L214.5 310.1 L216.6 309.9 L218.6 309.7 L220.7 309.5 L222.7 309.3 L224.8 309.2 L226.8 309.1 L228.9 309.0 L230.9 308.9 L233.0 308.8 L235.1 308.8 L237.1 308.8 L239.2 308.8 L241.2 308.8 L243.3 308.8 L245.3 308.9 L247.4 309.0 L249.4 309.1 L251.5 309.2 L253.5 309.4 L255.6 309.6 L257.7 309.8 L259.7 310.1 L261.8 310.3 L263.8 310.6 L265.9 311.0 L267.9 311.4 L270.0 311.8 L272.0 312.2 L274.1 312.7 L276.1 313.3 L278.2 313.8 L280.3 314.5 L282.3 315.2 L284.4 315.9 L286.4 316.7 L288.5 317.6 L290.5 318.5 L292.6 319.5 L294.6 320.6 L296.7 321.7 L298.7 323.0 L300.8 324.3" stroke="#1a1a1a" stroke-width="0.60" fill="none"/>
<path d="M56.3 437.4 L58.4 433.6 L60.4 430.0 L62.5 426.4 L64.5 423.0 L66.6 419.6 L68.6 416.4 L70.7 413.2 L72.7 410.2 L74.8 407.2 L76.8 404.3 L78.9 401.5 L81.0 398.8 L83.0 396.2 L85.1 393.6 L87.1 391.1 L89.2 388.7 L91.2 386.3 L93.3 384.0 L95.3 381.7 L97.4 379.6 L99.4 377.4 L101.5 375.4 L103.6 373.4 L105.6 371.4 L107.7 369.5 L109.7 367.6 L111.8 365.8 L113.8 364.1 L115.9 362.4 L117.9 360.7 L120.0 359.1 L122.0 357.5 L124.1 356.0 L126.2 354.5 L128.2 353.0 L130.3 351.6 L132.3 350.2 L134.4 348.9 L136.4 347.6 L138.5 346.3 L140.5 345.1 L142.6 343.9 L144.6 342.7 L146.7 341.6 L148.8 340.5 L150.8 339.4 L152.9 338.4 L154.9 337.4 L157.0 336.5 L159.0 335.5 L161.1 334.6 L163.1 333.8 L165.2 332.9 L167.2 332.1 L169.3 331.3 L171.4 330.6 L173.4 329.8 L175.5 329.2 L177.5 328.5 L179.6 327.8 L181.6 327.2 L183.7 326.7 L185.7 326.1 L187.8 325.6 L189.9 325.1 L191.9 324.6 L194.0 324.1 L196.0 323.7 L198.1 323.3 L200.1 322.9 L202.2 322.5 L204.2 322.2 L206.3 321.9 L208.3 321.6 L210.4 321.3 L212.5 321.1 L214.5 320.8 L216.6 320.6 L218.6 320.5 L220.7 320.3 L222.7 320.2 L224.8 320.1 L226.8 320.0 L228.9 319.9 L230.9 319.8 L233.0 319.8 L235.1 319.8 L237.1 319.8 L239.2 319.9 L241.2 319.9 L243.3 320.0 L245.3 320.1 L247.4 320.2 L249.4 320.4 L251.5 320.6 L253.5 320.8 L255.6 321.0 L257.7 321.2 L259.7 321.5 L261.8 321.8 L263.8 322.2 L265.9 322.5 L267.9 322.9 L270.0 323.3 L272.0 323.8 L274.1 324.3 L276.1 324.8 L278.2 325.4 L280.3 326.0 L282.3 326.7 L284.4 327.4 L286.4 328.1 L288.5 328.9 L290.5 329.7 L292.6 330.6 L294.6 331.6 L296.7 332.6 L298.7 333.7 L300.8 334.8" stroke="#1a1a1a" stroke-width="0.60" fill="none"/>
<path d="M151.7 339.0 L153.0 338.4 L154.2 337.7 L155.5 337.1 L156.7 336.6 L158.0 336.0 L159.2 335.4 L160.5 334.9 L161.7 334.3 L163.0 333.8 L164.3 333.3 L165.5 332.8 L166.8 332.3 L168.0 331.8 L169.3 331.3 L170.5 330.9 L171.8 330.4 L173.0 330.0 L174.3 329.6 L175.5 329.1 L176.8 328.7 L178.0 328.3 L179.3 327.9 L180.5 327.6 L181.8 327.2 L183.0 326.8 L184.3 326.5 L185.6 326.1 L186.8 325.8 L188.1 325.5 L189.3 325.2 L190.6 324.9 L191.8 324.6 L193.1 324.3 L194.3 324.0 L195.6 323.8 L196.8 323.5 L198.1 323.3 L199.3 323.0 L200.6 322.8 L201.8 322.6 L203.1 322.4 L204.3 322.2 L205.6 322.0 L206.8 321.8 L208.1 321.6 L209.4 321.4 L210.6 321.3 L211.9 321.1 L213.1 321.0 L214.4 320.9 L215.6 320.7 L216.9 320.6 L218.1 320.5 L219.4 320.4 L220.6 320.3 L221.9 320.2 L223.1 320.2 L224.4 320.1 L225.6 320.0 L226.9 320.0 L228.1 319.9 L229.4 319.9 L230.6 319.9 L231.9 319.8 L233.2 319.8 L234.4 319.8 L235.7 319.8 L236.9 319.8 L238.2 319.8 L239.4 319.9 L240.7 319.9 L241.9 320.0 L243.2 320.0 L244.4 320.1 L245.7 320.1 L246.9 320.2 L248.2 320.3 L249.4 320.4 L250.7 320.5 L251.9 320.6 L253.2 320.7 L254.4 320.9 L255.7 321.0 L257.0 321.2 L258.2 321.3 L259.5 321.5 L260.7 321.7 L262.0 321.9 L263.2 322.1 L264.5 322.3 L265.7 322.5 L267.0 322.7 L268.2 323.0 L269.5 323.2 L270.7 323.5 L272.0 323.8 L273.2 324.1 L274.5 324.4 L275.7 324.7 L277.0 325.1 L278.3 325.4 L279.5 325.8 L280.8 326.2 L282.0 326.6 L283.3 327.0 L284.5 327.4 L285.8 327.9 L287.0 328.3 L288.3 328.8 L289.5 329.3 L290.8 329.8 L292.0 330.4 L293.3 330.9 L294.5 331.5 L295.8 332.1 L297.0 332.8 L298.3 333.4 L299.5 334.1 L300.8 334.8" stroke="#1a1a1a" stroke-width="1.45" fill="none" stroke-linecap="round"/>
<path d="M56.3 437.4 L59.4 433.4 L62.5 429.5 L65.5 425.7 L68.6 422.0 L71.7 418.4 L74.8 414.9 L77.9 411.5 L81.0 408.1 L84.0 404.9 L87.1 401.7 L90.2 398.7 L93.3 395.7 L96.4 392.7 L99.4 389.9 L102.5 387.1 L105.6 384.4 L108.7 381.8 L111.8 379.2 L114.9 376.7 L117.9 374.3 L121.0 371.9 L124.1 369.6 L127.2 367.4 L130.3 365.2 L133.3 363.1 L136.4 361.0 L139.5 359.0 L142.6 357.0 L145.7 355.1 L148.8 353.2 L151.8 351.4 L154.9 349.6 L158.0 347.9 L161.1 346.3 L164.2 344.7 L167.2 343.1 L170.3 341.6 L173.4 340.1 L176.5 338.6 L179.6 337.3 L182.7 335.9 L185.7 334.6 L188.8 333.3 L191.9 332.1 L195.0 330.9 L198.1 329.8 L201.2 328.7 L204.2 327.6 L207.3 326.6 L210.4 325.6 L213.5 324.6 L216.6 323.7 L219.6 322.8 L222.7 321.9 L225.8 321.1 L228.9 320.3 L232.0 319.5 L235.1 318.8 L238.1 318.1 L241.2 317.5 L244.3 316.8 L247.4 316.2 L250.5 315.6 L253.5 315.1 L256.6 314.5 L259.7 314.0 L262.8 313.6 L265.9 313.1 L269.0 312.7 L272.0 312.3 L275.1 311.9 L278.2 311.5 L281.3 311.2 L284.4 310.9 L287.4 310.6 L290.5 310.3 L293.6 310.1 L296.7 309.9 L299.8 309.7 L302.9 309.5 L305.9 309.3 L309.0 309.2 L312.1 309.1 L315.2 309.0 L318.3 308.9 L321.3 308.8 L324.4 308.8 L327.5 308.8 L330.6 308.8 L333.7 308.8 L336.8 308.8 L339.8 308.9 L342.9 309.0 L346.0 309.1 L349.1 309.2 L352.2 309.4 L355.2 309.6 L358.3 309.8 L361.4 310.1 L364.5 310.3 L367.6 310.6 L370.7 311.0 L373.7 311.4 L376.8 311.8 L379.9 312.2 L383.0 312.7 L386.1 313.3 L389.1 313.8 L392.2 314.5 L395.3 315.2 L398.4 315.9 L401.5 316.7 L404.6 317.6 L407.6 318.5 L410.7 319.5 L413.8 320.6 L416.9 321.7 L420.0 323.0 L423.1 324.3" stroke="#1a1a1a" stroke-width="0.60" fill="none"/>
<path d="M56.3 437.4 L59.4 433.6 L62.5 429.9 L65.5 426.3 L68.6 422.9 L71.7 419.5 L74.8 416.2 L77.9 413.1 L81.0 410.0 L84.0 407.0 L87.1 404.1 L90.2 401.3 L93.3 398.5 L96.4 395.9 L99.4 393.3 L102.5 390.8 L105.6 388.3 L108.7 385.9 L111.8 383.6 L114.9 381.4 L117.9 379.2 L121.0 377.0 L124.1 374.9 L127.2 372.9 L130.3 370.9 L133.3 369.0 L136.4 367.2 L139.5 365.3 L142.6 363.6 L145.7 361.8 L148.8 360.2 L151.8 358.5 L154.9 356.9 L158.0 355.4 L161.1 353.9 L164.2 352.4 L167.2 351.0 L170.3 349.6 L173.4 348.2 L176.5 346.9 L179.6 345.6 L182.7 344.4 L185.7 343.2 L188.8 342.0 L191.9 340.9 L195.0 339.8 L198.1 338.7 L201.2 337.7 L204.2 336.7 L207.3 335.7 L210.4 334.8 L213.5 333.9 L216.6 333.0 L219.6 332.2 L222.7 331.4 L225.8 330.6 L228.9 329.8 L232.0 329.1 L235.1 328.4 L238.1 327.7 L241.2 327.1 L244.3 326.5 L247.4 325.9 L250.5 325.3 L253.5 324.8 L256.6 324.3 L259.7 323.8 L262.8 323.3 L265.9 322.9 L269.0 322.5 L272.0 322.1 L275.1 321.7 L278.2 321.4 L281.3 321.1 L284.4 320.8 L287.4 320.5 L290.5 320.2 L293.6 320.0 L296.7 319.8 L299.8 319.6 L302.9 319.5 L305.9 319.3 L309.0 319.2 L312.1 319.1 L315.2 319.1 L318.3 319.0 L321.3 319.0 L324.4 319.0 L327.5 319.0 L330.6 319.0 L333.7 319.1 L336.8 319.2 L339.8 319.3 L342.9 319.4 L346.0 319.6 L349.1 319.7 L352.2 319.9 L355.2 320.2 L358.3 320.4 L361.4 320.7 L364.5 321.0 L367.6 321.3 L370.7 321.7 L373.7 322.1 L376.8 322.5 L379.9 323.0 L383.0 323.5 L386.1 324.0 L389.1 324.6 L392.2 325.2 L395.3 325.9 L398.4 326.6 L401.5 327.3 L404.6 328.1 L407.6 329.0 L410.7 329.9 L413.8 330.8 L416.9 331.9 L420.0 332.9 L423.1 334.1" stroke="#1a1a1a" stroke-width="0.60" fill="none"/>
<path d="M201.9 337.5 L203.8 336.8 L205.6 336.3 L207.5 335.7 L209.4 335.1 L211.2 334.6 L213.1 334.0 L214.9 333.5 L216.8 333.0 L218.7 332.4 L220.5 331.9 L222.4 331.5 L224.2 331.0 L226.1 330.5 L227.9 330.0 L229.8 329.6 L231.7 329.2 L233.5 328.7 L235.4 328.3 L237.2 327.9 L239.1 327.5 L241.0 327.1 L242.8 326.8 L244.7 326.4 L246.5 326.0 L248.4 325.7 L250.2 325.3 L252.1 325.0 L254.0 324.7 L255.8 324.4 L257.7 324.1 L259.5 323.8 L261.4 323.5 L263.2 323.2 L265.1 323.0 L267.0 322.7 L268.8 322.5 L270.7 322.2 L272.5 322.0 L274.4 321.8 L276.3 321.6 L278.1 321.4 L280.0 321.2 L281.8 321.0 L283.7 320.8 L285.5 320.7 L287.4 320.5 L289.3 320.3 L291.1 320.2 L293.0 320.1 L294.8 319.9 L296.7 319.8 L298.6 319.7 L300.4 319.6 L302.3 319.5 L304.1 319.4 L306.0 319.3 L307.8 319.3 L309.7 319.2 L311.6 319.2 L313.4 319.1 L315.3 319.1 L317.1 319.0 L319.0 319.0 L320.9 319.0 L322.7 319.0 L324.6 319.0 L326.4 319.0 L328.3 319.0 L330.1 319.0 L332.0 319.1 L333.9 319.1 L335.7 319.1 L337.6 319.2 L339.4 319.3 L341.3 319.3 L343.2 319.4 L345.0 319.5 L346.9 319.6 L348.7 319.7 L350.6 319.8 L352.4 320.0 L354.3 320.1 L356.2 320.2 L358.0 320.4 L359.9 320.6 L361.7 320.7 L363.6 320.9 L365.4 321.1 L367.3 321.3 L369.2 321.5 L371.0 321.8 L372.9 322.0 L374.7 322.2 L376.6 322.5 L378.5 322.8 L380.3 323.1 L382.2 323.4 L384.0 323.7 L385.9 324.0 L387.7 324.3 L389.6 324.7 L391.5 325.1 L393.3 325.4 L395.2 325.8 L397.0 326.3 L398.9 326.7 L400.8 327.1 L402.6 327.6 L404.5 328.1 L406.3 328.6 L408.2 329.1 L410.0 329.7 L411.9 330.2 L413.8 330.8 L415.6 331.4 L417.5 332.1 L419.3 332.7 L421.2 333.4 L423.1 334.1" stroke="#1a1a1a" stroke-width="1.45" fill="none" stroke-linecap="round"/>
<path d="M56.3 437.4 L60.4 433.4 L64.5 429.5 L68.6 425.7 L72.7 422.0 L76.8 418.4 L81.0 414.9 L85.1 411.5 L89.2 408.1 L93.3 404.9 L97.4 401.7 L101.5 398.7 L105.6 395.7 L109.7 392.7 L113.8 389.9 L117.9 387.1 L122.0 384.4 L126.2 381.8 L130.3 379.2 L134.4 376.7 L138.5 374.3 L142.6 371.9 L146.7 369.6 L150.8 367.4 L154.9 365.2 L159.0 363.1 L163.1 361.0 L167.2 359.0 L171.4 357.0 L175.5 355.1 L179.6 353.2 L183.7 351.4 L187.8 349.6 L191.9 347.9 L196.0 346.3 L200.1 344.7 L204.2 343.1 L208.3 341.6 L212.5 340.1 L216.6 338.6 L220.7 337.3 L224.8 335.9 L228.9 334.6 L233.0 333.3 L237.1 332.1 L241.2 330.9 L245.3 329.8 L249.4 328.7 L253.5 327.6 L257.7 326.6 L261.8 325.6 L265.9 324.6 L270.0 323.7 L274.1 322.8 L278.2 321.9 L282.3 321.1 L286.4 320.3 L290.5 319.5 L294.6 318.8 L298.7 318.1 L302.9 317.5 L307.0 316.8 L311.1 316.2 L315.2 315.6 L319.3 315.1 L323.4 314.5 L327.5 314.0 L331.6 313.6 L335.7 313.1 L339.8 312.7 L343.9 312.3 L348.1 311.9 L352.2 311.5 L356.3 311.2 L360.4 310.9 L364.5 310.6 L368.6 310.3 L372.7 310.1 L376.8 309.9 L380.9 309.7 L385.0 309.5 L389.1 309.3 L393.3 309.2 L397.4 309.1 L401.5 309.0 L405.6 308.9 L409.7 308.8 L413.8 308.8 L417.9 308.8 L422.0 308.8 L426.1 308.8 L430.2 308.8 L434.4 308.9 L438.5 309.0 L442.6 309.1 L446.7 309.2 L450.8 309.4 L454.9 309.6 L459.0 309.8 L463.1 310.1 L467.2 310.3 L471.3 310.6 L475.4 311.0 L479.6 311.4 L483.7 311.8 L487.8 312.2 L491.9 312.7 L496.0 313.3 L500.1 313.8 L504.2 314.5 L508.3 315.2 L512.4 315.9 L516.5 316.7 L520.6 317.6 L524.8 318.5 L528.9 319.5 L533.0 320.6 L537.1 321.7 L541.2 323.0 L545.3 324.3" stroke="#1a1a1a" stroke-width="0.60" fill="none"/>
<path d="M56.3 437.4 L60.4 433.6 L64.5 429.9 L68.6 426.3 L72.7 422.8 L76.8 419.5 L81.0 416.2 L85.1 413.0 L89.2 409.9 L93.3 406.9 L97.4 404.0 L101.5 401.2 L105.6 398.5 L109.7 395.8 L113.8 393.2 L117.9 390.7 L122.0 388.2 L126.2 385.8 L130.3 383.5 L134.4 381.2 L138.5 379.0 L142.6 376.9 L146.7 374.8 L150.8 372.8 L154.9 370.8 L159.0 368.9 L163.1 367.0 L167.2 365.2 L171.4 363.4 L175.5 361.7 L179.6 360.0 L183.7 358.4 L187.8 356.8 L191.9 355.2 L196.0 353.7 L200.1 352.2 L204.2 350.8 L208.3 349.4 L212.5 348.1 L216.6 346.7 L220.7 345.5 L224.8 344.2 L228.9 343.0 L233.0 341.8 L237.1 340.7 L241.2 339.6 L245.3 338.5 L249.4 337.5 L253.5 336.5 L257.7 335.5 L261.8 334.6 L265.9 333.7 L270.0 332.8 L274.1 332.0 L278.2 331.1 L282.3 330.4 L286.4 329.6 L290.5 328.9 L294.6 328.2 L298.7 327.5 L302.9 326.9 L307.0 326.2 L311.1 325.6 L315.2 325.1 L319.3 324.5 L323.4 324.0 L327.5 323.5 L331.6 323.1 L335.7 322.6 L339.8 322.2 L343.9 321.8 L348.1 321.5 L352.2 321.1 L356.3 320.8 L360.4 320.5 L364.5 320.3 L368.6 320.0 L372.7 319.8 L376.8 319.6 L380.9 319.4 L385.0 319.2 L389.1 319.1 L393.3 319.0 L397.4 318.9 L401.5 318.8 L405.6 318.8 L409.7 318.8 L413.8 318.7 L417.9 318.8 L422.0 318.8 L426.1 318.9 L430.2 318.9 L434.4 319.0 L438.5 319.2 L442.6 319.3 L446.7 319.5 L450.8 319.7 L454.9 319.9 L459.0 320.2 L463.1 320.5 L467.2 320.8 L471.3 321.1 L475.4 321.5 L479.6 321.9 L483.7 322.3 L487.8 322.8 L491.9 323.3 L496.0 323.8 L500.1 324.4 L504.2 325.0 L508.3 325.7 L512.4 326.4 L516.5 327.1 L520.6 327.9 L524.8 328.8 L528.9 329.7 L533.0 330.6 L537.1 331.6 L541.2 332.7 L545.3 333.9" stroke="#1a1a1a" stroke-width="0.60" fill="none"/>
<path d="M250.9 337.1 L253.4 336.5 L255.8 336.0 L258.3 335.4 L260.8 334.8 L263.3 334.3 L265.7 333.7 L268.2 333.2 L270.7 332.7 L273.2 332.2 L275.6 331.7 L278.1 331.2 L280.6 330.7 L283.1 330.2 L285.5 329.8 L288.0 329.3 L290.5 328.9 L292.9 328.5 L295.4 328.0 L297.9 327.6 L300.4 327.2 L302.8 326.9 L305.3 326.5 L307.8 326.1 L310.3 325.8 L312.7 325.4 L315.2 325.1 L317.7 324.7 L320.2 324.4 L322.6 324.1 L325.1 323.8 L327.6 323.5 L330.1 323.3 L332.5 323.0 L335.0 322.7 L337.5 322.5 L340.0 322.2 L342.4 322.0 L344.9 321.8 L347.4 321.5 L349.9 321.3 L352.3 321.1 L354.8 320.9 L357.3 320.8 L359.7 320.6 L362.2 320.4 L364.7 320.2 L367.2 320.1 L369.6 320.0 L372.1 319.8 L374.6 319.7 L377.1 319.6 L379.5 319.5 L382.0 319.4 L384.5 319.3 L387.0 319.2 L389.4 319.1 L391.9 319.0 L394.4 319.0 L396.9 318.9 L399.3 318.9 L401.8 318.8 L404.3 318.8 L406.8 318.8 L409.2 318.8 L411.7 318.7 L414.2 318.7 L416.7 318.8 L419.1 318.8 L421.6 318.8 L424.1 318.8 L426.5 318.9 L429.0 318.9 L431.5 319.0 L434.0 319.0 L436.4 319.1 L438.9 319.2 L441.4 319.3 L443.9 319.4 L446.3 319.5 L448.8 319.6 L451.3 319.7 L453.8 319.9 L456.2 320.0 L458.7 320.2 L461.2 320.3 L463.7 320.5 L466.1 320.7 L468.6 320.9 L471.1 321.1 L473.6 321.3 L476.0 321.5 L478.5 321.8 L481.0 322.0 L483.4 322.3 L485.9 322.6 L488.4 322.8 L490.9 323.1 L493.3 323.5 L495.8 323.8 L498.3 324.1 L500.8 324.5 L503.2 324.8 L505.7 325.2 L508.2 325.6 L510.7 326.0 L513.1 326.5 L515.6 326.9 L518.1 327.4 L520.6 327.9 L523.0 328.4 L525.5 328.9 L528.0 329.5 L530.5 330.0 L532.9 330.6 L535.4 331.2 L537.9 331.8 L540.4 332.5 L542.8 333.2 L545.3 333.9" stroke="#1a1a1a" stroke-width="1.45" fill="none" stroke-linecap="round"/>
<path d="M56.3 667.8 L57.3 667.5 L58.4 667.3 L59.4 667.0 L60.4 666.7 L61.4 666.5 L62.5 666.2 L63.5 665.9 L64.5 665.6 L65.5 665.3 L66.6 665.1 L67.6 664.8 L68.6 664.5 L69.7 664.2 L70.7 663.9 L71.7 663.6 L72.7 663.3 L73.8 663.0 L74.8 662.7 L75.8 662.4 L76.8 662.1 L77.9 661.8 L78.9 661.5 L79.9 661.2 L81.0 660.9 L82.0 660.6 L83.0 660.3 L84.0 660.0 L85.1 659.6 L86.1 659.3 L87.1 659.0 L88.1 658.7 L89.2 658.4 L90.2 658.1 L91.2 657.8 L92.3 657.5 L93.3 657.1 L94.3 656.8 L95.3 656.5 L96.4 656.2 L97.4 655.9 L98.4 655.6 L99.4 655.3 L100.5 655.0 L101.5 654.7 L102.5 654.4 L103.6 654.1 L104.6 653.8 L105.6 653.5 L106.6 653.2 L107.7 652.9 L108.7 652.6 L109.7 652.3 L110.7 652.0 L111.8 651.7 L112.8 651.4 L113.8 651.1 L114.9 650.8 L115.9 650.5 L116.9 650.3 L117.9 650.0 L119.0 649.7 L120.0 649.4 L121.0 649.2 L122.0 648.9 L123.1 648.7 L124.1 648.4 L125.1 648.1 L126.2 647.9 L127.2 647.6 L128.2 647.4 L129.2 647.2 L130.3 646.9 L131.3 646.7 L132.3 646.5 L133.3 646.2 L134.4 646.0 L135.4 645.8 L136.4 645.6 L137.5 645.4 L138.5 645.1 L139.5 644.9 L140.5 644.7 L141.6 644.5 L142.6 644.3 L143.6 644.2 L144.6 644.0 L145.7 643.8 L146.7 643.6 L147.7 643.4 L148.8 643.3 L149.8 643.1 L150.8 642.9 L151.8 642.8 L152.9 642.6 L153.9 642.5 L154.9 642.3 L155.9 642.2 L157.0 642.0 L158.0 641.9 L159.0 641.8 L160.1 641.7 L161.1 641.5 L162.1 641.4 L163.1 641.3 L164.2 641.2 L165.2 641.1 L166.2 640.9 L167.2 640.8 L168.3 640.7 L169.3 640.6 L170.3 640.5 L171.4 640.4 L172.4 640.3 L173.4 640.2 L174.4 640.1 L175.5 640.0 L176.5 640.0 L177.5 639.9 L178.6 639.8" stroke="#ff00ff" stroke-width="0.75" fill="none"/>
<path d="M102.4 654.4 L103.0 654.2 L103.6 654.0 L104.3 653.8 L104.9 653.7 L105.6 653.5 L106.2 653.3 L106.8 653.1 L107.5 652.9 L108.1 652.7 L108.8 652.5 L109.4 652.4 L110.0 652.2 L110.7 652.0 L111.3 651.8 L112.0 651.6 L112.6 651.5 L113.2 651.3 L113.9 651.1 L114.5 650.9 L115.2 650.7 L115.8 650.6 L116.4 650.4 L117.1 650.2 L117.7 650.0 L118.4 649.9 L119.0 649.7 L119.6 649.5 L120.3 649.4 L120.9 649.2 L121.6 649.0 L122.2 648.9 L122.8 648.7 L123.5 648.6 L124.1 648.4 L124.8 648.2 L125.4 648.1 L126.0 647.9 L126.7 647.8 L127.3 647.6 L128.0 647.5 L128.6 647.3 L129.2 647.2 L129.9 647.0 L130.5 646.9 L131.2 646.7 L131.8 646.6 L132.4 646.4 L133.1 646.3 L133.7 646.1 L134.4 646.0 L135.0 645.9 L135.6 645.7 L136.3 645.6 L136.9 645.5 L137.6 645.3 L138.2 645.2 L138.9 645.1 L139.5 644.9 L140.1 644.8 L140.8 644.7 L141.4 644.6 L142.1 644.4 L142.7 644.3 L143.3 644.2 L144.0 644.1 L144.6 644.0 L145.3 643.9 L145.9 643.8 L146.5 643.6 L147.2 643.5 L147.8 643.4 L148.5 643.3 L149.1 643.2 L149.7 643.1 L150.4 643.0 L151.0 642.9 L151.7 642.8 L152.3 642.7 L152.9 642.6 L153.6 642.5 L154.2 642.4 L154.9 642.3 L155.5 642.3 L156.1 642.2 L156.8 642.1 L157.4 642.0 L158.1 641.9 L158.7 641.8 L159.3 641.7 L160.0 641.7 L160.6 641.6 L161.3 641.5 L161.9 641.4 L162.5 641.4 L163.2 641.3 L163.8 641.2 L164.5 641.1 L165.1 641.1 L165.7 641.0 L166.4 640.9 L167.0 640.9 L167.7 640.8 L168.3 640.7 L168.9 640.7 L169.6 640.6 L170.2 640.5 L170.9 640.5 L171.5 640.4 L172.1 640.4 L172.8 640.3 L173.4 640.2 L174.1 640.2 L174.7 640.1 L175.3 640.1 L176.0 640.0 L176.6 639.9 L177.3 639.9 L177.9 639.8 L178.6 639.8" stroke="#ff00ff" stroke-width="1.45" fill="none" stroke-linecap="round"/>
<path d="M56.3 671.3 L57.3 671.1 L58.4 670.8 L59.4 670.6 L60.4 670.3 L61.4 670.1 L62.5 669.8 L63.5 669.5 L64.5 669.3 L65.5 669.0 L66.6 668.7 L67.6 668.4 L68.6 668.1 L69.7 667.9 L70.7 667.6 L71.7 667.3 L72.7 667.0 L73.8 666.7 L74.8 666.4 L75.8 666.1 L76.8 665.8 L77.9 665.5 L78.9 665.2 L79.9 664.9 L81.0 664.6 L82.0 664.3 L83.0 664.0 L84.0 663.7 L85.1 663.4 L86.1 663.1 L87.1 662.8 L88.1 662.5 L89.2 662.2 L90.2 661.9 L91.2 661.6 L92.3 661.3 L93.3 661.0 L94.3 660.7 L95.3 660.4 L96.4 660.1 L97.4 659.8 L98.4 659.5 L99.4 659.2 L100.5 658.9 L101.5 658.6 L102.5 658.3 L103.6 658.0 L104.6 657.7 L105.6 657.5 L106.6 657.2 L107.7 656.9 L108.7 656.6 L109.7 656.3 L110.7 656.1 L111.8 655.8 L112.8 655.5 L113.8 655.3 L114.9 655.0 L115.9 654.7 L116.9 654.5 L117.9 654.2 L119.0 654.0 L120.0 653.7 L121.0 653.4 L122.0 653.2 L123.1 653.0 L124.1 652.7 L125.1 652.5 L126.2 652.2 L127.2 652.0 L128.2 651.8 L129.2 651.5 L130.3 651.3 L131.3 651.1 L132.3 650.9 L133.3 650.7 L134.4 650.5 L135.4 650.2 L136.4 650.0 L137.5 649.8 L138.5 649.6 L139.5 649.4 L140.5 649.3 L141.6 649.1 L142.6 648.9 L143.6 648.7 L144.6 648.5 L145.7 648.3 L146.7 648.2 L147.7 648.0 L148.8 647.8 L149.8 647.7 L150.8 647.5 L151.8 647.3 L152.9 647.2 L153.9 647.0 L154.9 646.9 L155.9 646.8 L157.0 646.6 L158.0 646.5 L159.0 646.3 L160.1 646.2 L161.1 646.1 L162.1 646.0 L163.1 645.8 L164.2 645.7 L165.2 645.6 L166.2 645.5 L167.2 645.4 L168.3 645.3 L169.3 645.2 L170.3 645.1 L171.4 645.0 L172.4 644.9 L173.4 644.8 L174.4 644.8 L175.5 644.7 L176.5 644.6 L177.5 644.5 L178.6 644.5" stroke="#ff00ff" stroke-width="0.75" fill="none"/>
<path d="M56.3 647.0 L58.4 646.4 L60.4 645.9 L62.5 645.4 L64.5 644.8 L66.6 644.3 L68.6 643.7 L70.7 643.2 L72.7 642.6 L74.8 642.0 L76.8 641.4 L78.9 640.9 L81.0 640.3 L83.0 639.7 L85.1 639.1 L87.1 638.5 L89.2 637.9 L91.2 637.3 L93.3 636.7 L95.3 636.1 L97.4 635.4 L99.4 634.8 L101.5 634.2 L103.6 633.6 L105.6 632.9 L107.7 632.3 L109.7 631.7 L111.8 631.1 L113.8 630.4 L115.9 629.8 L117.9 629.1 L120.0 628.5 L122.0 627.9 L124.1 627.2 L126.2 626.6 L128.2 626.0 L130.3 625.3 L132.3 624.7 L134.4 624.1 L136.4 623.4 L138.5 622.8 L140.5 622.2 L142.6 621.5 L144.6 620.9 L146.7 620.3 L148.8 619.7 L150.8 619.0 L152.9 618.4 L154.9 617.8 L157.0 617.2 L159.0 616.6 L161.1 616.0 L163.1 615.4 L165.2 614.8 L167.2 614.2 L169.3 613.6 L171.4 613.0 L173.4 612.5 L175.5 611.9 L177.5 611.3 L179.6 610.7 L181.6 610.2 L183.7 609.6 L185.7 609.1 L187.8 608.6 L189.9 608.0 L191.9 607.5 L194.0 607.0 L196.0 606.5 L198.1 606.0 L200.1 605.5 L202.2 605.0 L204.2 604.5 L206.3 604.0 L208.3 603.5 L210.4 603.1 L212.5 602.6 L214.5 602.1 L216.6 601.7 L218.6 601.3 L220.7 600.8 L222.7 600.4 L224.8 600.0 L226.8 599.6 L228.9 599.2 L230.9 598.8 L233.0 598.4 L235.1 598.1 L237.1 597.7 L239.2 597.3 L241.2 597.0 L243.3 596.6 L245.3 596.3 L247.4 596.0 L249.4 595.7 L251.5 595.4 L253.5 595.0 L255.6 594.7 L257.7 594.5 L259.7 594.2 L261.8 593.9 L263.8 593.6 L265.9 593.4 L267.9 593.1 L270.0 592.9 L272.0 592.6 L274.1 592.4 L276.1 592.1 L278.2 591.9 L280.3 591.7 L282.3 591.5 L284.4 591.3 L286.4 591.1 L288.5 590.9 L290.5 590.7 L292.6 590.5 L294.6 590.3 L296.7 590.1 L298.7 589.9 L300.8 589.7" stroke="#ff00ff" stroke-width="0.75" fill="none"/>
<path d="M151.7 618.8 L153.0 618.4 L154.2 618.0 L155.5 617.6 L156.7 617.3 L158.0 616.9 L159.2 616.5 L160.5 616.2 L161.7 615.8 L163.0 615.4 L164.3 615.1 L165.5 614.7 L166.8 614.3 L168.0 614.0 L169.3 613.6 L170.5 613.3 L171.8 612.9 L173.0 612.6 L174.3 612.2 L175.5 611.9 L176.8 611.5 L178.0 611.2 L179.3 610.8 L180.5 610.5 L181.8 610.1 L183.0 609.8 L184.3 609.5 L185.6 609.1 L186.8 608.8 L188.1 608.5 L189.3 608.2 L190.6 607.8 L191.8 607.5 L193.1 607.2 L194.3 606.9 L195.6 606.6 L196.8 606.3 L198.1 606.0 L199.3 605.6 L200.6 605.3 L201.8 605.0 L203.1 604.7 L204.3 604.4 L205.6 604.2 L206.8 603.9 L208.1 603.6 L209.4 603.3 L210.6 603.0 L211.9 602.7 L213.1 602.5 L214.4 602.2 L215.6 601.9 L216.9 601.6 L218.1 601.4 L219.4 601.1 L220.6 600.8 L221.9 600.6 L223.1 600.3 L224.4 600.1 L225.6 599.8 L226.9 599.6 L228.1 599.3 L229.4 599.1 L230.6 598.9 L231.9 598.6 L233.2 598.4 L234.4 598.2 L235.7 598.0 L236.9 597.7 L238.2 597.5 L239.4 597.3 L240.7 597.1 L241.9 596.9 L243.2 596.7 L244.4 596.5 L245.7 596.3 L246.9 596.1 L248.2 595.9 L249.4 595.7 L250.7 595.5 L251.9 595.3 L253.2 595.1 L254.4 594.9 L255.7 594.7 L257.0 594.6 L258.2 594.4 L259.5 594.2 L260.7 594.0 L262.0 593.9 L263.2 593.7 L264.5 593.5 L265.7 593.4 L267.0 593.2 L268.2 593.1 L269.5 592.9 L270.7 592.8 L272.0 592.6 L273.2 592.5 L274.5 592.3 L275.7 592.2 L277.0 592.0 L278.3 591.9 L279.5 591.8 L280.8 591.6 L282.0 591.5 L283.3 591.4 L284.5 591.2 L285.8 591.1 L287.0 591.0 L288.3 590.9 L289.5 590.7 L290.8 590.6 L292.0 590.5 L293.3 590.4 L294.5 590.3 L295.8 590.2 L297.0 590.0 L298.3 589.9 L299.5 589.8 L300.8 589.7" stroke="#ff00ff" stroke-width="1.45" fill="none" stroke-linecap="round"/>
<path d="M56.3 651.7 L58.4 651.3 L60.4 650.8 L62.5 650.3 L64.5 649.8 L66.6 649.3 L68.6 648.7 L70.7 648.2 L72.7 647.7 L74.8 647.1 L76.8 646.6 L78.9 646.0 L81.0 645.5 L83.0 644.9 L85.1 644.3 L87.1 643.8 L89.2 643.2 L91.2 642.6 L93.3 642.0 L95.3 641.4 L97.4 640.8 L99.4 640.2 L101.5 639.6 L103.6 639.0 L105.6 638.4 L107.7 637.8 L109.7 637.2 L111.8 636.6 L113.8 636.0 L115.9 635.4 L117.9 634.8 L120.0 634.2 L122.0 633.6 L124.1 633.0 L126.2 632.4 L128.2 631.8 L130.3 631.2 L132.3 630.6 L134.4 630.0 L136.4 629.4 L138.5 628.8 L140.5 628.2 L142.6 627.6 L144.6 627.1 L146.7 626.5 L148.8 625.9 L150.8 625.3 L152.9 624.8 L154.9 624.2 L157.0 623.6 L159.0 623.1 L161.1 622.5 L163.1 622.0 L165.2 621.4 L167.2 620.9 L169.3 620.3 L171.4 619.8 L173.4 619.3 L175.5 618.8 L177.5 618.2 L179.6 617.7 L181.6 617.2 L183.7 616.7 L185.7 616.2 L187.8 615.7 L189.9 615.2 L191.9 614.8 L194.0 614.3 L196.0 613.8 L198.1 613.4 L200.1 612.9 L202.2 612.5 L204.2 612.0 L206.3 611.6 L208.3 611.1 L210.4 610.7 L212.5 610.3 L214.5 609.9 L216.6 609.5 L218.6 609.1 L220.7 608.7 L222.7 608.3 L224.8 607.9 L226.8 607.5 L228.9 607.1 L230.9 606.8 L233.0 606.4 L235.1 606.1 L237.1 605.7 L239.2 605.4 L241.2 605.1 L243.3 604.7 L245.3 604.4 L247.4 604.1 L249.4 603.8 L251.5 603.5 L253.5 603.2 L255.6 602.9 L257.7 602.7 L259.7 602.4 L261.8 602.1 L263.8 601.9 L265.9 601.6 L267.9 601.4 L270.0 601.2 L272.0 600.9 L274.1 600.7 L276.1 600.5 L278.2 600.3 L280.3 600.1 L282.3 599.9 L284.4 599.7 L286.4 599.5 L288.5 599.3 L290.5 599.2 L292.6 599.0 L294.6 598.9 L296.7 598.7 L298.7 598.6 L300.8 598.5" stroke="#ff00ff" stroke-width="0.75" fill="none"/>
<path d="M56.3 625.6 L59.4 624.8 L62.5 624.0 L65.5 623.2 L68.6 622.4 L71.7 621.6 L74.8 620.7 L77.9 619.9 L81.0 619.0 L84.0 618.2 L87.1 617.3 L90.2 616.4 L93.3 615.6 L96.4 614.7 L99.4 613.8 L102.5 612.9 L105.6 612.0 L108.7 611.1 L111.8 610.2 L114.9 609.3 L117.9 608.3 L121.0 607.4 L124.1 606.5 L127.2 605.5 L130.3 604.6 L133.3 603.7 L136.4 602.7 L139.5 601.8 L142.6 600.8 L145.7 599.9 L148.8 598.9 L151.8 598.0 L154.9 597.0 L158.0 596.1 L161.1 595.1 L164.2 594.2 L167.2 593.2 L170.3 592.2 L173.4 591.3 L176.5 590.3 L179.6 589.4 L182.7 588.5 L185.7 587.5 L188.8 586.6 L191.9 585.6 L195.0 584.7 L198.1 583.8 L201.2 582.9 L204.2 581.9 L207.3 581.0 L210.4 580.1 L213.5 579.2 L216.6 578.3 L219.6 577.4 L222.7 576.5 L225.8 575.7 L228.9 574.8 L232.0 573.9 L235.1 573.1 L238.1 572.2 L241.2 571.4 L244.3 570.5 L247.4 569.7 L250.5 568.9 L253.5 568.1 L256.6 567.3 L259.7 566.5 L262.8 565.7 L265.9 564.9 L269.0 564.2 L272.0 563.4 L275.1 562.7 L278.2 562.0 L281.3 561.2 L284.4 560.5 L287.4 559.8 L290.5 559.2 L293.6 558.5 L296.7 557.8 L299.8 557.2 L302.9 556.5 L305.9 555.9 L309.0 555.3 L312.1 554.7 L315.2 554.1 L318.3 553.5 L321.3 552.9 L324.4 552.4 L327.5 551.8 L330.6 551.3 L333.7 550.8 L336.8 550.3 L339.8 549.8 L342.9 549.3 L346.0 548.8 L349.1 548.3 L352.2 547.9 L355.2 547.4 L358.3 547.0 L361.4 546.6 L364.5 546.1 L367.6 545.7 L370.7 545.4 L373.7 545.0 L376.8 544.6 L379.9 544.2 L383.0 543.9 L386.1 543.5 L389.1 543.2 L392.2 542.9 L395.3 542.5 L398.4 542.2 L401.5 541.9 L404.6 541.6 L407.6 541.3 L410.7 541.0 L413.8 540.7 L416.9 540.4 L420.0 540.2 L423.1 539.9" stroke="#ff00ff" stroke-width="0.75" fill="none"/>
<path d="M201.9 582.6 L203.8 582.1 L205.6 581.5 L207.5 581.0 L209.4 580.4 L211.2 579.9 L213.1 579.3 L214.9 578.8 L216.8 578.2 L218.7 577.7 L220.5 577.2 L222.4 576.6 L224.2 576.1 L226.1 575.6 L227.9 575.0 L229.8 574.5 L231.7 574.0 L233.5 573.5 L235.4 573.0 L237.2 572.5 L239.1 571.9 L241.0 571.4 L242.8 570.9 L244.7 570.4 L246.5 569.9 L248.4 569.4 L250.2 568.9 L252.1 568.5 L254.0 568.0 L255.8 567.5 L257.7 567.0 L259.5 566.5 L261.4 566.1 L263.2 565.6 L265.1 565.1 L267.0 564.7 L268.8 564.2 L270.7 563.8 L272.5 563.3 L274.4 562.9 L276.3 562.4 L278.1 562.0 L280.0 561.6 L281.8 561.1 L283.7 560.7 L285.5 560.3 L287.4 559.9 L289.3 559.4 L291.1 559.0 L293.0 558.6 L294.8 558.2 L296.7 557.8 L298.6 557.4 L300.4 557.0 L302.3 556.7 L304.1 556.3 L306.0 555.9 L307.8 555.5 L309.7 555.1 L311.6 554.8 L313.4 554.4 L315.3 554.1 L317.1 553.7 L319.0 553.4 L320.9 553.0 L322.7 552.7 L324.6 552.3 L326.4 552.0 L328.3 551.7 L330.1 551.4 L332.0 551.1 L333.9 550.7 L335.7 550.4 L337.6 550.1 L339.4 549.8 L341.3 549.5 L343.2 549.2 L345.0 548.9 L346.9 548.7 L348.7 548.4 L350.6 548.1 L352.4 547.8 L354.3 547.6 L356.2 547.3 L358.0 547.0 L359.9 546.8 L361.7 546.5 L363.6 546.3 L365.4 546.0 L367.3 545.8 L369.2 545.5 L371.0 545.3 L372.9 545.1 L374.7 544.8 L376.6 544.6 L378.5 544.4 L380.3 544.2 L382.2 544.0 L384.0 543.8 L385.9 543.5 L387.7 543.3 L389.6 543.1 L391.5 542.9 L393.3 542.7 L395.2 542.5 L397.0 542.4 L398.9 542.2 L400.8 542.0 L402.6 541.8 L404.5 541.6 L406.3 541.4 L408.2 541.2 L410.0 541.1 L411.9 540.9 L413.8 540.7 L415.6 540.6 L417.5 540.4 L419.3 540.2 L421.2 540.0 L423.1 539.9" stroke="#ff00ff" stroke-width="1.45" fill="none" stroke-linecap="round"/>
<path d="M56.3 631.8 L59.4 631.1 L62.5 630.3 L65.5 629.6 L68.6 628.9 L71.7 628.1 L74.8 627.3 L77.9 626.5 L81.0 625.7 L84.0 624.9 L87.1 624.1 L90.2 623.3 L93.3 622.4 L96.4 621.6 L99.4 620.7 L102.5 619.9 L105.6 619.0 L108.7 618.1 L111.8 617.3 L114.9 616.4 L117.9 615.5 L121.0 614.6 L124.1 613.7 L127.2 612.8 L130.3 611.9 L133.3 611.0 L136.4 610.1 L139.5 609.2 L142.6 608.3 L145.7 607.4 L148.8 606.5 L151.8 605.6 L154.9 604.7 L158.0 603.8 L161.1 602.9 L164.2 602.0 L167.2 601.1 L170.3 600.3 L173.4 599.4 L176.5 598.5 L179.6 597.6 L182.7 596.7 L185.7 595.8 L188.8 595.0 L191.9 594.1 L195.0 593.3 L198.1 592.4 L201.2 591.5 L204.2 590.7 L207.3 589.9 L210.4 589.0 L213.5 588.2 L216.6 587.4 L219.6 586.6 L222.7 585.8 L225.8 585.0 L228.9 584.2 L232.0 583.4 L235.1 582.6 L238.1 581.8 L241.2 581.1 L244.3 580.3 L247.4 579.6 L250.5 578.8 L253.5 578.1 L256.6 577.4 L259.7 576.6 L262.8 575.9 L265.9 575.2 L269.0 574.5 L272.0 573.9 L275.1 573.2 L278.2 572.5 L281.3 571.9 L284.4 571.2 L287.4 570.6 L290.5 570.0 L293.6 569.4 L296.7 568.7 L299.8 568.1 L302.9 567.6 L305.9 567.0 L309.0 566.4 L312.1 565.8 L315.2 565.3 L318.3 564.8 L321.3 564.2 L324.4 563.7 L327.5 563.2 L330.6 562.7 L333.7 562.2 L336.8 561.7 L339.8 561.3 L342.9 560.8 L346.0 560.3 L349.1 559.9 L352.2 559.5 L355.2 559.1 L358.3 558.6 L361.4 558.2 L364.5 557.9 L367.6 557.5 L370.7 557.1 L373.7 556.8 L376.8 556.4 L379.9 556.1 L383.0 555.7 L386.1 555.4 L389.1 555.1 L392.2 554.8 L395.3 554.5 L398.4 554.3 L401.5 554.0 L404.6 553.7 L407.6 553.5 L410.7 553.3 L413.8 553.0 L416.9 552.8 L420.0 552.6 L423.1 552.4" stroke="#ff00ff" stroke-width="0.75" fill="none"/>
<path d="M56.3 605.6 L60.4 604.5 L64.5 603.4 L68.6 602.3 L72.7 601.2 L76.8 600.1 L81.0 599.0 L85.1 597.8 L89.2 596.7 L93.3 595.5 L97.4 594.3 L101.5 593.2 L105.6 592.0 L109.7 590.8 L113.8 589.6 L117.9 588.4 L122.0 587.1 L126.2 585.9 L130.3 584.7 L134.4 583.4 L138.5 582.2 L142.6 580.9 L146.7 579.7 L150.8 578.4 L154.9 577.1 L159.0 575.9 L163.1 574.6 L167.2 573.3 L171.4 572.0 L175.5 570.8 L179.6 569.5 L183.7 568.2 L187.8 566.9 L191.9 565.6 L196.0 564.3 L200.1 563.0 L204.2 561.7 L208.3 560.5 L212.5 559.2 L216.6 557.9 L220.7 556.6 L224.8 555.3 L228.9 554.1 L233.0 552.8 L237.1 551.5 L241.2 550.3 L245.3 549.0 L249.4 547.8 L253.5 546.5 L257.7 545.3 L261.8 544.1 L265.9 542.8 L270.0 541.6 L274.1 540.4 L278.2 539.2 L282.3 538.0 L286.4 536.8 L290.5 535.7 L294.6 534.5 L298.7 533.4 L302.9 532.2 L307.0 531.1 L311.1 530.0 L315.2 528.9 L319.3 527.8 L323.4 526.7 L327.5 525.6 L331.6 524.6 L335.7 523.5 L339.8 522.5 L343.9 521.5 L348.1 520.5 L352.2 519.5 L356.3 518.5 L360.4 517.5 L364.5 516.6 L368.6 515.7 L372.7 514.8 L376.8 513.9 L380.9 513.0 L385.0 512.1 L389.1 511.2 L393.3 510.4 L397.4 509.6 L401.5 508.8 L405.6 508.0 L409.7 507.2 L413.8 506.4 L417.9 505.7 L422.0 505.0 L426.1 504.2 L430.2 503.5 L434.4 502.9 L438.5 502.2 L442.6 501.5 L446.7 500.9 L450.8 500.3 L454.9 499.7 L459.0 499.1 L463.1 498.5 L467.2 497.9 L471.3 497.4 L475.4 496.8 L479.6 496.3 L483.7 495.8 L487.8 495.3 L491.9 494.8 L496.0 494.3 L500.1 493.8 L504.2 493.4 L508.3 492.9 L512.4 492.5 L516.5 492.0 L520.6 491.6 L524.8 491.2 L528.9 490.8 L533.0 490.4 L537.1 490.0 L541.2 489.6 L545.3 489.2" stroke="#14467f" stroke-width="0.75" fill="none"/>
<path d="M250.9 547.3 L253.4 546.6 L255.8 545.8 L258.3 545.1 L260.8 544.3 L263.3 543.6 L265.7 542.9 L268.2 542.1 L270.7 541.4 L273.2 540.7 L275.6 540.0 L278.1 539.2 L280.6 538.5 L283.1 537.8 L285.5 537.1 L288.0 536.4 L290.5 535.7 L292.9 535.0 L295.4 534.3 L297.9 533.6 L300.4 532.9 L302.8 532.2 L305.3 531.5 L307.8 530.9 L310.3 530.2 L312.7 529.5 L315.2 528.9 L317.7 528.2 L320.2 527.5 L322.6 526.9 L325.1 526.2 L327.6 525.6 L330.1 525.0 L332.5 524.3 L335.0 523.7 L337.5 523.1 L340.0 522.5 L342.4 521.8 L344.9 521.2 L347.4 520.6 L349.9 520.0 L352.3 519.4 L354.8 518.9 L357.3 518.3 L359.7 517.7 L362.2 517.1 L364.7 516.6 L367.2 516.0 L369.6 515.4 L372.1 514.9 L374.6 514.3 L377.1 513.8 L379.5 513.3 L382.0 512.7 L384.5 512.2 L387.0 511.7 L389.4 511.2 L391.9 510.7 L394.4 510.2 L396.9 509.7 L399.3 509.2 L401.8 508.7 L404.3 508.2 L406.8 507.8 L409.2 507.3 L411.7 506.8 L414.2 506.4 L416.7 505.9 L419.1 505.5 L421.6 505.0 L424.1 504.6 L426.5 504.2 L429.0 503.8 L431.5 503.3 L434.0 502.9 L436.4 502.5 L438.9 502.1 L441.4 501.7 L443.9 501.3 L446.3 500.9 L448.8 500.6 L451.3 500.2 L453.8 499.8 L456.2 499.5 L458.7 499.1 L461.2 498.8 L463.7 498.4 L466.1 498.1 L468.6 497.7 L471.1 497.4 L473.6 497.1 L476.0 496.7 L478.5 496.4 L481.0 496.1 L483.4 495.8 L485.9 495.5 L488.4 495.2 L490.9 494.9 L493.3 494.6 L495.8 494.3 L498.3 494.0 L500.8 493.8 L503.2 493.5 L505.7 493.2 L508.2 492.9 L510.7 492.7 L513.1 492.4 L515.6 492.1 L518.1 491.9 L520.6 491.6 L523.0 491.4 L525.5 491.1 L528.0 490.9 L530.5 490.6 L532.9 490.4 L535.4 490.2 L537.9 489.9 L540.4 489.7 L542.8 489.5 L545.3 489.2" stroke="#14467f" stroke-width="1.45" fill="none" stroke-linecap="round"/>
<path d="M56.3 612.4 L60.4 611.4 L64.5 610.5 L68.6 609.5 L72.7 608.5 L76.8 607.5 L81.0 606.4 L85.1 605.4 L89.2 604.3 L93.3 603.2 L97.4 602.1 L101.5 601.0 L105.6 599.9 L109.7 598.8 L113.8 597.6 L117.9 596.5 L122.0 595.3 L126.2 594.2 L130.3 593.0 L134.4 591.8 L138.5 590.6 L142.6 589.5 L146.7 588.3 L150.8 587.1 L154.9 585.9 L159.0 584.7 L163.1 583.5 L167.2 582.3 L171.4 581.1 L175.5 579.9 L179.6 578.7 L183.7 577.5 L187.8 576.3 L191.9 575.1 L196.0 573.9 L200.1 572.7 L204.2 571.5 L208.3 570.3 L212.5 569.1 L216.6 567.9 L220.7 566.8 L224.8 565.6 L228.9 564.4 L233.0 563.3 L237.1 562.1 L241.2 560.9 L245.3 559.8 L249.4 558.7 L253.5 557.5 L257.7 556.4 L261.8 555.3 L265.9 554.2 L270.0 553.1 L274.1 552.0 L278.2 550.9 L282.3 549.9 L286.4 548.8 L290.5 547.8 L294.6 546.7 L298.7 545.7 L302.9 544.7 L307.0 543.7 L311.1 542.7 L315.2 541.7 L319.3 540.7 L323.4 539.7 L327.5 538.8 L331.6 537.8 L335.7 536.9 L339.8 536.0 L343.9 535.1 L348.1 534.2 L352.2 533.3 L356.3 532.4 L360.4 531.5 L364.5 530.7 L368.6 529.9 L372.7 529.0 L376.8 528.2 L380.9 527.4 L385.0 526.6 L389.1 525.9 L393.3 525.1 L397.4 524.4 L401.5 523.6 L405.6 522.9 L409.7 522.2 L413.8 521.5 L417.9 520.8 L422.0 520.1 L426.1 519.5 L430.2 518.8 L434.4 518.2 L438.5 517.6 L442.6 517.0 L446.7 516.4 L450.8 515.8 L454.9 515.3 L459.0 514.7 L463.1 514.2 L467.2 513.7 L471.3 513.2 L475.4 512.7 L479.6 512.2 L483.7 511.7 L487.8 511.3 L491.9 510.8 L496.0 510.4 L500.1 510.0 L504.2 509.6 L508.3 509.2 L512.4 508.9 L516.5 508.5 L520.6 508.2 L524.8 507.8 L528.9 507.5 L533.0 507.2 L537.1 506.9 L541.2 506.7 L545.3 506.4" stroke="#14467f" stroke-width="0.75" fill="none"/>
<path d="M56.3 663.1H276.2" stroke="#111" stroke-width="1.3" fill="none"/>
<path d="M106.1 663.1 L106.6 663.1 L107.1 663.1 L107.7 663.1 L108.2 663.1 L108.7 663.1 L109.2 663.1 L109.7 663.1 L110.3 663.1 L110.8 663.0 L111.3 662.9 L111.8 662.9 L112.3 662.8 L112.9 662.7 L113.4 662.6 L113.9 662.5 L114.4 662.4 L115.0 662.2 L115.5 662.1 L116.0 662.0 L116.5 661.8 L117.0 661.7 L117.6 661.5 L118.1 661.4 L118.6 661.2 L119.1 661.0 L119.6 660.8 L120.2 660.7 L120.7 660.5 L121.2 660.3 L121.7 660.1 L122.2 659.9 L122.8 659.7 L123.3 659.5 L123.8 659.3 L124.3 659.1 L124.9 658.9 L125.4 658.7 L125.9 658.5 L126.4 658.2 L126.9 658.0 L127.5 657.8 L128.0 657.6 L128.5 657.3 L129.0 657.1 L129.5 656.9 L130.1 656.6 L130.6 656.4 L131.1 656.1 L131.6 655.9 L132.2 655.6 L132.7 655.4 L133.2 655.1 L133.7 654.9 L134.2 654.6 L134.8 654.3 L135.3 654.1 L135.8 653.8 L136.3 653.5 L136.8 653.2 L137.4 652.9 L137.9 652.7 L138.4 652.4 L138.9 652.1 L139.5 651.8 L140.0 651.4 L140.5 651.1 L141.0 650.8 L141.5 650.5 L142.1 650.1 L142.6 649.8 L143.1 649.5 L143.6 649.1 L144.1 648.7 L144.7 648.4 L145.2 648.0 L145.7 647.6 L146.2 647.2 L146.8 646.8 L147.3 646.4 L147.8 645.9 L148.3 645.5 L148.8 645.1 L149.4 644.6 L149.9 644.1 L150.4 643.6 L150.9 643.1 L151.4 642.6 L152.0 642.1 L152.5 641.5 L153.0 641.0 L153.5 640.4 L154.0 639.8 L154.6 639.2 L155.1 638.6 L155.6 637.9 L156.1 637.3 L156.7 636.6 L157.2 635.9 L157.7 635.2 L158.2 634.4 L158.7 633.6 L159.3 632.9 L159.8 632.0 L160.3 631.2 L160.8 630.3 L161.3 629.5 L161.9 628.5 L162.4 627.6 L162.9 626.6 L163.4 625.6 L164.0 624.6 L164.5 623.5 L165.0 622.4 L165.5 621.3 L166.0 620.2 L166.6 619.0 L167.1 617.8 L167.6 616.5 L168.1 615.2 L168.6 613.9 L169.2 612.5 L169.7 611.1 L170.2 609.6 L170.7 608.2 L171.3 606.6 L171.8 605.1 L172.3 603.4 L172.8 601.8 L173.3 600.1 L173.9 598.3 L174.4 596.5 L174.9 594.7 L175.4 592.8 L175.9 590.8 L176.5 588.8 L177.0 586.7 L177.5 584.6 L178.0 582.5 L178.6 580.2" stroke="#111" stroke-width="1.6" fill="none" stroke-linecap="round"/>
<path d="M155.9 663.1 L156.9 663.1 L158.0 663.1 L159.0 663.1 L160.0 663.1 L161.1 663.1 L162.1 663.1 L163.2 663.1 L164.2 663.1 L165.3 663.0 L166.3 662.9 L167.3 662.9 L168.4 662.8 L169.4 662.7 L170.5 662.6 L171.5 662.5 L172.6 662.4 L173.6 662.2 L174.6 662.1 L175.7 662.0 L176.7 661.8 L177.8 661.7 L178.8 661.5 L179.9 661.4 L180.9 661.2 L181.9 661.0 L183.0 660.8 L184.0 660.7 L185.1 660.5 L186.1 660.3 L187.2 660.1 L188.2 659.9 L189.2 659.7 L190.3 659.5 L191.3 659.3 L192.4 659.1 L193.4 658.9 L194.5 658.7 L195.5 658.5 L196.5 658.2 L197.6 658.0 L198.6 657.8 L199.7 657.6 L200.7 657.3 L201.8 657.1 L202.8 656.9 L203.8 656.6 L204.9 656.4 L205.9 656.1 L207.0 655.9 L208.0 655.6 L209.0 655.4 L210.1 655.1 L211.1 654.9 L212.2 654.6 L213.2 654.3 L214.3 654.1 L215.3 653.8 L216.3 653.5 L217.4 653.2 L218.4 652.9 L219.5 652.7 L220.5 652.4 L221.6 652.1 L222.6 651.8 L223.6 651.4 L224.7 651.1 L225.7 650.8 L226.8 650.5 L227.8 650.1 L228.9 649.8 L229.9 649.5 L230.9 649.1 L232.0 648.7 L233.0 648.4 L234.1 648.0 L235.1 647.6 L236.2 647.2 L237.2 646.8 L238.2 646.4 L239.3 645.9 L240.3 645.5 L241.4 645.1 L242.4 644.6 L243.5 644.1 L244.5 643.6 L245.5 643.1 L246.6 642.6 L247.6 642.1 L248.7 641.5 L249.7 641.0 L250.8 640.4 L251.8 639.8 L252.8 639.2 L253.9 638.6 L254.9 637.9 L256.0 637.3 L257.0 636.6 L258.1 635.9 L259.1 635.2 L260.1 634.4 L261.2 633.6 L262.2 632.9 L263.3 632.0 L264.3 631.2 L265.4 630.3 L266.4 629.5 L267.4 628.5 L268.5 627.6 L269.5 626.6 L270.6 625.6 L271.6 624.6 L272.6 623.5 L273.7 622.4 L274.7 621.3 L275.8 620.2 L276.8 619.0 L277.9 617.8 L278.9 616.5 L279.9 615.2 L281.0 613.9 L282.0 612.5 L283.1 611.1 L284.1 609.6 L285.2 608.2 L286.2 606.6 L287.2 605.1 L288.3 603.4 L289.3 601.8 L290.4 600.1 L291.4 598.3 L292.5 596.5 L293.5 594.7 L294.5 592.8 L295.6 590.8 L296.6 588.8 L297.7 586.7 L298.7 584.6 L299.8 582.5 L300.8 580.2" stroke="#111" stroke-width="1.6" fill="none" stroke-linecap="round"/>
<path d="M205.7 663.1 L207.2 663.1 L208.8 663.1 L210.4 663.1 L211.9 663.1 L213.5 663.1 L215.0 663.1 L216.6 663.1 L218.2 663.1 L219.7 663.0 L221.3 662.9 L222.9 662.9 L224.4 662.8 L226.0 662.7 L227.6 662.6 L229.1 662.5 L230.7 662.4 L232.3 662.2 L233.8 662.1 L235.4 662.0 L236.9 661.8 L238.5 661.7 L240.1 661.5 L241.6 661.4 L243.2 661.2 L244.8 661.0 L246.3 660.8 L247.9 660.7 L249.5 660.5 L251.0 660.3 L252.6 660.1 L254.1 659.9 L255.7 659.7 L257.3 659.5 L258.8 659.3 L260.4 659.1 L262.0 658.9 L263.5 658.7 L265.1 658.5 L266.7 658.2 L268.2 658.0 L269.8 657.8 L271.3 657.6 L272.9 657.3 L274.5 657.1 L276.0 656.9 L277.6 656.6 L279.2 656.4 L280.7 656.1 L282.3 655.9 L283.9 655.6 L285.4 655.4 L287.0 655.1 L288.6 654.9 L290.1 654.6 L291.7 654.3 L293.2 654.1 L294.8 653.8 L296.4 653.5 L297.9 653.2 L299.5 652.9 L301.1 652.7 L302.6 652.4 L304.2 652.1 L305.8 651.8 L307.3 651.4 L308.9 651.1 L310.4 650.8 L312.0 650.5 L313.6 650.1 L315.1 649.8 L316.7 649.5 L318.3 649.1 L319.8 648.7 L321.4 648.4 L323.0 648.0 L324.5 647.6 L326.1 647.2 L327.7 646.8 L329.2 646.4 L330.8 645.9 L332.3 645.5 L333.9 645.1 L335.5 644.6 L337.0 644.1 L338.6 643.6 L340.2 643.1 L341.7 642.6 L343.3 642.1 L344.9 641.5 L346.4 641.0 L348.0 640.4 L349.5 639.8 L351.1 639.2 L352.7 638.6 L354.2 637.9 L355.8 637.3 L357.4 636.6 L358.9 635.9 L360.5 635.2 L362.1 634.4 L363.6 633.6 L365.2 632.9 L366.7 632.0 L368.3 631.2 L369.9 630.3 L371.4 629.5 L373.0 628.5 L374.6 627.6 L376.1 626.6 L377.7 625.6 L379.3 624.6 L380.8 623.5 L382.4 622.4 L384.0 621.3 L385.5 620.2 L387.1 619.0 L388.6 617.8 L390.2 616.5 L391.8 615.2 L393.3 613.9 L394.9 612.5 L396.5 611.1 L398.0 609.6 L399.6 608.2 L401.2 606.6 L402.7 605.1 L404.3 603.4 L405.8 601.8 L407.4 600.1 L409.0 598.3 L410.5 596.5 L412.1 594.7 L413.7 592.8 L415.2 590.8 L416.8 588.8 L418.4 586.7 L419.9 584.6 L421.5 582.5 L423.1 580.2" stroke="#111" stroke-width="1.6" fill="none" stroke-linecap="round"/>
<path d="M255.5 663.1 L257.5 663.1 L259.6 663.1 L261.7 663.1 L263.8 663.1 L265.9 663.1 L268.0 663.1 L270.0 663.1 L272.1 663.1 L274.2 663.0 L276.3 662.9 L278.4 662.9 L280.5 662.8 L282.6 662.7 L284.6 662.6 L286.7 662.5 L288.8 662.4 L290.9 662.2 L293.0 662.1 L295.1 662.0 L297.2 661.8 L299.2 661.7 L301.3 661.5 L303.4 661.4 L305.5 661.2 L307.6 661.0 L309.7 660.8 L311.8 660.7 L313.8 660.5 L315.9 660.3 L318.0 660.1 L320.1 659.9 L322.2 659.7 L324.3 659.5 L326.4 659.3 L328.4 659.1 L330.5 658.9 L332.6 658.7 L334.7 658.5 L336.8 658.2 L338.9 658.0 L340.9 657.8 L343.0 657.6 L345.1 657.3 L347.2 657.1 L349.3 656.9 L351.4 656.6 L353.5 656.4 L355.5 656.1 L357.6 655.9 L359.7 655.6 L361.8 655.4 L363.9 655.1 L366.0 654.9 L368.1 654.6 L370.1 654.3 L372.2 654.1 L374.3 653.8 L376.4 653.5 L378.5 653.2 L380.6 652.9 L382.7 652.7 L384.7 652.4 L386.8 652.1 L388.9 651.8 L391.0 651.4 L393.1 651.1 L395.2 650.8 L397.2 650.5 L399.3 650.1 L401.4 649.8 L403.5 649.5 L405.6 649.1 L407.7 648.7 L409.8 648.4 L411.8 648.0 L413.9 647.6 L416.0 647.2 L418.1 646.8 L420.2 646.4 L422.3 645.9 L424.4 645.5 L426.4 645.1 L428.5 644.6 L430.6 644.1 L432.7 643.6 L434.8 643.1 L436.9 642.6 L439.0 642.1 L441.0 641.5 L443.1 641.0 L445.2 640.4 L447.3 639.8 L449.4 639.2 L451.5 638.6 L453.6 637.9 L455.6 637.3 L457.7 636.6 L459.8 635.9 L461.9 635.2 L464.0 634.4 L466.1 633.6 L468.1 632.9 L470.2 632.0 L472.3 631.2 L474.4 630.3 L476.5 629.5 L478.6 628.5 L480.7 627.6 L482.7 626.6 L484.8 625.6 L486.9 624.6 L489.0 623.5 L491.1 622.4 L493.2 621.3 L495.3 620.2 L497.3 619.0 L499.4 617.8 L501.5 616.5 L503.6 615.2 L505.7 613.9 L507.8 612.5 L509.9 611.1 L511.9 609.6 L514.0 608.2 L516.1 606.6 L518.2 605.1 L520.3 603.4 L522.4 601.8 L524.4 600.1 L526.5 598.3 L528.6 596.5 L530.7 594.7 L532.8 592.8 L534.9 590.8 L537.0 588.8 L539.0 586.7 L541.1 584.6 L543.2 582.5 L545.3 580.2" stroke="#111" stroke-width="1.6" fill="none" stroke-linecap="round"/>
<path d="M56.3 0V437.4M56.3 458.4V690.5M55.8 458.4H594.5" stroke="#2a2a2a" stroke-width="1.15" fill="none"/>
<path d="M594.0 0V437.4M594.0 458.4V690.5" stroke="#555" stroke-width="1.35" fill="none"/>
<path d="M56.3 0.5H594.0" stroke="#9a9a9a" stroke-width="1" fill="none"/>
<path d="M51.6 403.8H56.3M51.6 370.2H56.3M51.6 303.0H56.3M51.6 269.3H56.3M51.6 235.7H56.3M51.6 168.5H56.3M51.6 134.9H56.3M51.6 101.3H56.3M594.6 403.8H598.2M594.6 370.2H598.2M594.6 303.0H598.2M594.6 269.3H598.2M51.6 690.5H56.3M51.6 657.3H56.3M51.6 624.2H56.3M51.6 591.0H56.3M51.6 557.9H56.3M51.6 524.7H56.3M594.6 690.5H598.2M594.6 657.3H598.2M594.6 591.0H598.2M594.6 557.9H598.2M594.6 524.7H598.2" stroke="#a4a4a4" stroke-width="1.1" fill="none"/>
<path d="M51.8 437.4H598.2M56.3 437.4v4M97.8 437.4v4M139.3 437.4v4M180.8 437.4v4M222.3 437.4v4M263.8 437.4v4M305.2 437.4v4M346.7 437.4v4M388.2 437.4v4M429.7 437.4v4M471.2 437.4v4M512.7 437.4v4M554.2 437.4v4M51.6 336.6H56.3M51.6 202.1H56.3M51.6 67.7H56.3M594.6 336.6H598.2M51.6 491.5H56.3M594.6 624.2H598.2M594.6 491.5H598.2" stroke="#222" stroke-width="1.1" fill="none"/>
<rect x="418.5" y="0.5" width="175.5" height="17.7" fill="#fff" stroke="#5a5a5a" stroke-width="1"/>
<g font-family="Liberation Sans, Arial, sans-serif" font-size="11.2" fill="#26263a">
<text x="422.1" y="13.4" font-size="11">HYDRO MPC-F 4CR45-4, 50Hz</text>
<text x="46.6" y="408.0" text-anchor="end">10</text>
<text x="46.6" y="374.4" text-anchor="end">20</text>
<text x="46.6" y="340.8" text-anchor="end">30</text>
<text x="46.6" y="307.2" text-anchor="end">40</text>
<text x="46.6" y="273.5" text-anchor="end">50</text>
<text x="46.6" y="239.9" text-anchor="end">60</text>
<text x="46.6" y="206.3" text-anchor="end">70</text>
<text x="46.6" y="172.7" text-anchor="end">80</text>
<text x="46.6" y="139.1" text-anchor="end">90</text>
<text x="46.6" y="105.5" text-anchor="end">100</text>
<text x="46.6" y="71.9" text-anchor="end">110</text>
<text x="46.6" y="441.6" text-anchor="end">0</text>
<text x="55.8" y="453.7" text-anchor="middle">0</text>
<text x="97.3" y="453.7" text-anchor="middle">20</text>
<text x="138.8" y="453.7" text-anchor="middle">40</text>
<text x="180.3" y="453.7" text-anchor="middle">60</text>
<text x="221.8" y="453.7" text-anchor="middle">80</text>
<text x="263.2" y="453.7" text-anchor="middle">100</text>
<text x="304.7" y="453.7" text-anchor="middle">120</text>
<text x="346.2" y="453.7" text-anchor="middle">140</text>
<text x="387.7" y="453.7" text-anchor="middle">160</text>
<text x="429.2" y="453.7" text-anchor="middle">180</text>
<text x="470.7" y="453.7" text-anchor="middle">200</text>
<text x="512.2" y="453.7" text-anchor="middle">220</text>
<text x="549.2" y="453.7" font-size="10.4">Q [м³/ч]</text>
<text x="601.6" y="441.6">0</text>
<text x="601.6" y="408.0">20</text>
<text x="601.6" y="374.4">40</text>
<text x="601.6" y="340.8">60</text>
<text x="601.6" y="307.2">80</text>
<text x="601.6" y="273.5">100</text>
<text x="46.6" y="694.7" text-anchor="end">0</text>
<text x="46.6" y="661.5" text-anchor="end">10</text>
<text x="46.6" y="628.4" text-anchor="end">20</text>
<text x="46.6" y="595.2" text-anchor="end">30</text>
<text x="46.6" y="562.1" text-anchor="end">40</text>
<text x="46.6" y="528.9" text-anchor="end">50</text>
<text x="601.6" y="694.7">0</text>
<text x="601.6" y="661.5">2</text>
<text x="601.6" y="628.4">4</text>
<text x="601.6" y="595.2">6</text>
<text x="601.6" y="562.1">8</text>
<text x="601.6" y="528.9">10</text>
<g font-size="11" text-anchor="middle">
<text x="29.2" y="9.0">H</text><text x="29.1" y="23.0">[м]</text>
<text x="620.6" y="9.6">eta</text><text x="620.8" y="22.8">[%]</text>
<text x="27.6" y="467.0">P</text><text x="27.7" y="480.8">[кВт]</text>
<text x="625.4" y="467.2">NPSH</text><text x="625.6" y="480.2">[м]</text>
</g>
<g fill="#2a5c9c" font-size="11">
<text x="378.6" y="485.8" textLength="155.3" lengthAdjust="spacing">P1 (двиг.+преобр-ль частоты)</text>
<text x="528.4" y="518.2">P2</text>
</g>
</g>
</svg>
</body></html>
